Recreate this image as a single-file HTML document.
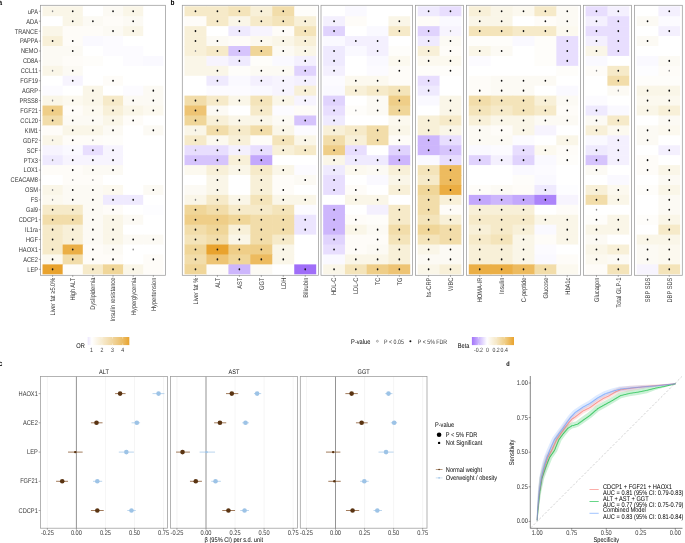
<!DOCTYPE html>
<html><head><meta charset="utf-8"><style>
html,body{margin:0;padding:0;background:#fff;width:685px;height:543px;overflow:hidden}
svg{display:block;will-change:transform;text-rendering:geometricPrecision}
</style></head><body>
<svg width="685" height="543" viewBox="0 0 685 543" font-family='"Liberation Sans", sans-serif'>
<rect width="685" height="543" fill="#fff"/>
<text transform="translate(-1.4,5.2) scale(0.830,1)" font-size="7.80" font-weight="bold" fill="#000" stroke="#000" stroke-width="0">a</text>
<text transform="translate(170.6,5.2) scale(0.830,1)" font-size="7.80" font-weight="bold" fill="#000" stroke="#000" stroke-width="0">b</text>
<text transform="translate(-1.2,366.2) scale(0.830,1)" font-size="7.80" font-weight="bold" fill="#000" stroke="#000" stroke-width="0">c</text>
<text transform="translate(506.2,365.8) scale(0.830,1)" font-size="6.72" font-weight="bold" fill="#000" stroke="#000" stroke-width="0">d</text>
<rect x="42.52" y="6.29" width="20.75" height="10.53" fill="#faf6e8"/>
<rect x="62.66" y="6.29" width="20.75" height="10.53" fill="#faf6e8"/>
<rect x="82.81" y="6.29" width="20.75" height="10.53" fill="#ffffff"/>
<rect x="102.97" y="6.29" width="20.75" height="10.53" fill="#fcfaf4"/>
<rect x="123.11" y="6.29" width="20.75" height="10.53" fill="#faf6e8"/>
<rect x="143.26" y="6.29" width="20.15" height="10.53" fill="#ffffff"/>
<rect x="42.52" y="16.22" width="20.75" height="10.53" fill="#ffffff"/>
<rect x="62.66" y="16.22" width="20.75" height="10.53" fill="#faf6e8"/>
<rect x="82.81" y="16.22" width="20.75" height="10.53" fill="#fcfaf4"/>
<rect x="102.97" y="16.22" width="20.75" height="10.53" fill="#fefcf8"/>
<rect x="123.11" y="16.22" width="20.75" height="10.53" fill="#fcfaf4"/>
<rect x="143.26" y="16.22" width="20.15" height="10.53" fill="#ffffff"/>
<rect x="42.52" y="26.15" width="20.75" height="10.53" fill="#faf6e8"/>
<rect x="62.66" y="26.15" width="20.75" height="10.53" fill="#fefcf8"/>
<rect x="82.81" y="26.15" width="20.75" height="10.53" fill="#fefcf8"/>
<rect x="102.97" y="26.15" width="20.75" height="10.53" fill="#fcfaf4"/>
<rect x="123.11" y="26.15" width="20.75" height="10.53" fill="#faf6e8"/>
<rect x="143.26" y="26.15" width="20.15" height="10.53" fill="#ffffff"/>
<rect x="42.52" y="36.07" width="20.75" height="10.53" fill="#f8f0d8"/>
<rect x="62.66" y="36.07" width="20.75" height="10.53" fill="#fefcf8"/>
<rect x="82.81" y="36.07" width="20.75" height="10.53" fill="#faf9ff"/>
<rect x="102.97" y="36.07" width="20.75" height="10.53" fill="#fcfbff"/>
<rect x="123.11" y="36.07" width="20.75" height="10.53" fill="#ffffff"/>
<rect x="143.26" y="36.07" width="20.15" height="10.53" fill="#ffffff"/>
<rect x="42.52" y="46.00" width="20.75" height="10.53" fill="#fcfaf4"/>
<rect x="62.66" y="46.00" width="20.75" height="10.53" fill="#fcfaf4"/>
<rect x="82.81" y="46.00" width="20.75" height="10.53" fill="#ffffff"/>
<rect x="102.97" y="46.00" width="20.75" height="10.53" fill="#fcfbff"/>
<rect x="123.11" y="46.00" width="20.75" height="10.53" fill="#fcfbff"/>
<rect x="143.26" y="46.00" width="20.15" height="10.53" fill="#ffffff"/>
<rect x="42.52" y="55.92" width="20.75" height="10.53" fill="#fcfaf4"/>
<rect x="62.66" y="55.92" width="20.75" height="10.53" fill="#fefcf8"/>
<rect x="82.81" y="55.92" width="20.75" height="10.53" fill="#fefdfa"/>
<rect x="102.97" y="55.92" width="20.75" height="10.53" fill="#ffffff"/>
<rect x="123.11" y="55.92" width="20.75" height="10.53" fill="#fcfbff"/>
<rect x="143.26" y="55.92" width="20.15" height="10.53" fill="#faf9ff"/>
<rect x="42.52" y="65.85" width="20.75" height="10.53" fill="#faf6e8"/>
<rect x="62.66" y="65.85" width="20.75" height="10.53" fill="#fcfaf4"/>
<rect x="82.81" y="65.85" width="20.75" height="10.53" fill="#ffffff"/>
<rect x="102.97" y="65.85" width="20.75" height="10.53" fill="#ffffff"/>
<rect x="123.11" y="65.85" width="20.75" height="10.53" fill="#ffffff"/>
<rect x="143.26" y="65.85" width="20.15" height="10.53" fill="#ffffff"/>
<rect x="42.52" y="75.78" width="20.75" height="10.53" fill="#ffffff"/>
<rect x="62.66" y="75.78" width="20.75" height="10.53" fill="#f7f4fe"/>
<rect x="82.81" y="75.78" width="20.75" height="10.53" fill="#ffffff"/>
<rect x="102.97" y="75.78" width="20.75" height="10.53" fill="#fefcf8"/>
<rect x="123.11" y="75.78" width="20.75" height="10.53" fill="#ffffff"/>
<rect x="143.26" y="75.78" width="20.15" height="10.53" fill="#ffffff"/>
<rect x="42.52" y="85.70" width="20.75" height="10.53" fill="#fcfbff"/>
<rect x="62.66" y="85.70" width="20.75" height="10.53" fill="#ffffff"/>
<rect x="82.81" y="85.70" width="20.75" height="10.53" fill="#faf6e8"/>
<rect x="102.97" y="85.70" width="20.75" height="10.53" fill="#ffffff"/>
<rect x="123.11" y="85.70" width="20.75" height="10.53" fill="#fcfbff"/>
<rect x="143.26" y="85.70" width="20.15" height="10.53" fill="#fcfaf4"/>
<rect x="42.52" y="95.63" width="20.75" height="10.53" fill="#faf6e8"/>
<rect x="62.66" y="95.63" width="20.75" height="10.53" fill="#fcf9ef"/>
<rect x="82.81" y="95.63" width="20.75" height="10.53" fill="#faf6e8"/>
<rect x="102.97" y="95.63" width="20.75" height="10.53" fill="#f6eac9"/>
<rect x="123.11" y="95.63" width="20.75" height="10.53" fill="#fcfaf4"/>
<rect x="143.26" y="95.63" width="20.15" height="10.53" fill="#fcfaf4"/>
<rect x="42.52" y="105.56" width="20.75" height="10.53" fill="#efce88"/>
<rect x="62.66" y="105.56" width="20.75" height="10.53" fill="#fefcf8"/>
<rect x="82.81" y="105.56" width="20.75" height="10.53" fill="#fcf9ef"/>
<rect x="102.97" y="105.56" width="20.75" height="10.53" fill="#f8f0d8"/>
<rect x="123.11" y="105.56" width="20.75" height="10.53" fill="#faf6e8"/>
<rect x="143.26" y="105.56" width="20.15" height="10.53" fill="#fcf9ef"/>
<rect x="42.52" y="115.48" width="20.75" height="10.53" fill="#f2ddaa"/>
<rect x="62.66" y="115.48" width="20.75" height="10.53" fill="#fcfaf4"/>
<rect x="82.81" y="115.48" width="20.75" height="10.53" fill="#fcfaf4"/>
<rect x="102.97" y="115.48" width="20.75" height="10.53" fill="#faf6e8"/>
<rect x="123.11" y="115.48" width="20.75" height="10.53" fill="#fefcf8"/>
<rect x="143.26" y="115.48" width="20.15" height="10.53" fill="#ffffff"/>
<rect x="42.52" y="125.41" width="20.75" height="10.53" fill="#fefcf8"/>
<rect x="62.66" y="125.41" width="20.75" height="10.53" fill="#faf6e8"/>
<rect x="82.81" y="125.41" width="20.75" height="10.53" fill="#faf6e8"/>
<rect x="102.97" y="125.41" width="20.75" height="10.53" fill="#fcfaf4"/>
<rect x="123.11" y="125.41" width="20.75" height="10.53" fill="#ffffff"/>
<rect x="143.26" y="125.41" width="20.15" height="10.53" fill="#fcfaf4"/>
<rect x="42.52" y="135.34" width="20.75" height="10.53" fill="#faf6e8"/>
<rect x="62.66" y="135.34" width="20.75" height="10.53" fill="#fefcf8"/>
<rect x="82.81" y="135.34" width="20.75" height="10.53" fill="#fefcf8"/>
<rect x="102.97" y="135.34" width="20.75" height="10.53" fill="#fefdfa"/>
<rect x="123.11" y="135.34" width="20.75" height="10.53" fill="#ffffff"/>
<rect x="143.26" y="135.34" width="20.15" height="10.53" fill="#ffffff"/>
<rect x="42.52" y="145.26" width="20.75" height="10.53" fill="#f7f4fe"/>
<rect x="62.66" y="145.26" width="20.75" height="10.53" fill="#faf9ff"/>
<rect x="82.81" y="145.26" width="20.75" height="10.53" fill="#e8defe"/>
<rect x="102.97" y="145.26" width="20.75" height="10.53" fill="#f7f4fe"/>
<rect x="123.11" y="145.26" width="20.75" height="10.53" fill="#ffffff"/>
<rect x="143.26" y="145.26" width="20.15" height="10.53" fill="#ffffff"/>
<rect x="42.52" y="155.19" width="20.75" height="10.53" fill="#efeafe"/>
<rect x="62.66" y="155.19" width="20.75" height="10.53" fill="#f7f4fe"/>
<rect x="82.81" y="155.19" width="20.75" height="10.53" fill="#f7f4fe"/>
<rect x="102.97" y="155.19" width="20.75" height="10.53" fill="#f7f4fe"/>
<rect x="123.11" y="155.19" width="20.75" height="10.53" fill="#ffffff"/>
<rect x="143.26" y="155.19" width="20.15" height="10.53" fill="#ffffff"/>
<rect x="42.52" y="165.12" width="20.75" height="10.53" fill="#fefcf8"/>
<rect x="62.66" y="165.12" width="20.75" height="10.53" fill="#fefcf8"/>
<rect x="82.81" y="165.12" width="20.75" height="10.53" fill="#fcfaf4"/>
<rect x="102.97" y="165.12" width="20.75" height="10.53" fill="#fcfaf4"/>
<rect x="123.11" y="165.12" width="20.75" height="10.53" fill="#ffffff"/>
<rect x="143.26" y="165.12" width="20.15" height="10.53" fill="#ffffff"/>
<rect x="42.52" y="175.04" width="20.75" height="10.53" fill="#ffffff"/>
<rect x="62.66" y="175.04" width="20.75" height="10.53" fill="#fefcf8"/>
<rect x="82.81" y="175.04" width="20.75" height="10.53" fill="#fefcf8"/>
<rect x="102.97" y="175.04" width="20.75" height="10.53" fill="#ffffff"/>
<rect x="123.11" y="175.04" width="20.75" height="10.53" fill="#ffffff"/>
<rect x="143.26" y="175.04" width="20.15" height="10.53" fill="#ffffff"/>
<rect x="42.52" y="184.97" width="20.75" height="10.53" fill="#faf6e8"/>
<rect x="62.66" y="184.97" width="20.75" height="10.53" fill="#fcfaf4"/>
<rect x="82.81" y="184.97" width="20.75" height="10.53" fill="#fcfaf4"/>
<rect x="102.97" y="184.97" width="20.75" height="10.53" fill="#fcf9ef"/>
<rect x="123.11" y="184.97" width="20.75" height="10.53" fill="#ffffff"/>
<rect x="143.26" y="184.97" width="20.15" height="10.53" fill="#fcfaf4"/>
<rect x="42.52" y="194.90" width="20.75" height="10.53" fill="#fcf9ef"/>
<rect x="62.66" y="194.90" width="20.75" height="10.53" fill="#fcfaf4"/>
<rect x="82.81" y="194.90" width="20.75" height="10.53" fill="#fcfaf4"/>
<rect x="102.97" y="194.90" width="20.75" height="10.53" fill="#efeafe"/>
<rect x="123.11" y="194.90" width="20.75" height="10.53" fill="#efeafe"/>
<rect x="143.26" y="194.90" width="20.15" height="10.53" fill="#ffffff"/>
<rect x="42.52" y="204.82" width="20.75" height="10.53" fill="#f6eac9"/>
<rect x="62.66" y="204.82" width="20.75" height="10.53" fill="#f6eac9"/>
<rect x="82.81" y="204.82" width="20.75" height="10.53" fill="#fcfaf4"/>
<rect x="102.97" y="204.82" width="20.75" height="10.53" fill="#fefcf8"/>
<rect x="123.11" y="204.82" width="20.75" height="10.53" fill="#ffffff"/>
<rect x="143.26" y="204.82" width="20.15" height="10.53" fill="#fdfdff"/>
<rect x="42.52" y="214.75" width="20.75" height="10.53" fill="#f2ddaa"/>
<rect x="62.66" y="214.75" width="20.75" height="10.53" fill="#f2ddaa"/>
<rect x="82.81" y="214.75" width="20.75" height="10.53" fill="#fcfaf4"/>
<rect x="102.97" y="214.75" width="20.75" height="10.53" fill="#faf6e8"/>
<rect x="123.11" y="214.75" width="20.75" height="10.53" fill="#fcfaf4"/>
<rect x="143.26" y="214.75" width="20.15" height="10.53" fill="#ffffff"/>
<rect x="42.52" y="224.67" width="20.75" height="10.53" fill="#f6eac9"/>
<rect x="62.66" y="224.67" width="20.75" height="10.53" fill="#f8f0d8"/>
<rect x="82.81" y="224.67" width="20.75" height="10.53" fill="#fcfaf4"/>
<rect x="102.97" y="224.67" width="20.75" height="10.53" fill="#faf6e8"/>
<rect x="123.11" y="224.67" width="20.75" height="10.53" fill="#ffffff"/>
<rect x="143.26" y="224.67" width="20.15" height="10.53" fill="#ffffff"/>
<rect x="42.52" y="234.60" width="20.75" height="10.53" fill="#f6eac9"/>
<rect x="62.66" y="234.60" width="20.75" height="10.53" fill="#f8f0d8"/>
<rect x="82.81" y="234.60" width="20.75" height="10.53" fill="#fcfaf4"/>
<rect x="102.97" y="234.60" width="20.75" height="10.53" fill="#faf6e8"/>
<rect x="123.11" y="234.60" width="20.75" height="10.53" fill="#fcfaf4"/>
<rect x="143.26" y="234.60" width="20.15" height="10.53" fill="#fcfaf4"/>
<rect x="42.52" y="244.53" width="20.75" height="10.53" fill="#f6eac9"/>
<rect x="62.66" y="244.53" width="20.75" height="10.53" fill="#ebaf46"/>
<rect x="82.81" y="244.53" width="20.75" height="10.53" fill="#fefcf8"/>
<rect x="102.97" y="244.53" width="20.75" height="10.53" fill="#fcfaf4"/>
<rect x="123.11" y="244.53" width="20.75" height="10.53" fill="#ffffff"/>
<rect x="143.26" y="244.53" width="20.15" height="10.53" fill="#ffffff"/>
<rect x="42.52" y="254.45" width="20.75" height="10.53" fill="#fcf9ef"/>
<rect x="62.66" y="254.45" width="20.75" height="10.53" fill="#f2ddaa"/>
<rect x="82.81" y="254.45" width="20.75" height="10.53" fill="#fefcf8"/>
<rect x="102.97" y="254.45" width="20.75" height="10.53" fill="#fefcf8"/>
<rect x="123.11" y="254.45" width="20.75" height="10.53" fill="#ffffff"/>
<rect x="143.26" y="254.45" width="20.15" height="10.53" fill="#fefcf8"/>
<rect x="42.52" y="264.38" width="20.75" height="9.93" fill="#e9a32e"/>
<rect x="62.66" y="264.38" width="20.75" height="9.93" fill="#fefdfa"/>
<rect x="82.81" y="264.38" width="20.75" height="9.93" fill="#f6eac9"/>
<rect x="102.97" y="264.38" width="20.75" height="9.93" fill="#f0d699"/>
<rect x="123.11" y="264.38" width="20.75" height="9.93" fill="#faf6e8"/>
<rect x="143.26" y="264.38" width="20.15" height="9.93" fill="#fefcf8"/>
<ellipse cx="52.59" cy="11.26" rx="0.75" ry="1.05" fill="#8c8c8c"/>
<ellipse cx="72.74" cy="11.26" rx="0.85" ry="1.05" fill="#111"/>
<ellipse cx="113.04" cy="11.26" rx="0.85" ry="1.05" fill="#111"/>
<ellipse cx="133.19" cy="11.26" rx="0.85" ry="1.05" fill="#111"/>
<ellipse cx="72.74" cy="21.18" rx="0.85" ry="1.05" fill="#111"/>
<ellipse cx="92.89" cy="21.18" rx="0.85" ry="1.05" fill="#111"/>
<ellipse cx="133.19" cy="21.18" rx="0.85" ry="1.05" fill="#111"/>
<ellipse cx="113.04" cy="31.11" rx="0.85" ry="1.05" fill="#111"/>
<ellipse cx="133.19" cy="31.11" rx="0.85" ry="1.05" fill="#111"/>
<ellipse cx="52.59" cy="41.04" rx="0.85" ry="1.05" fill="#111"/>
<ellipse cx="72.74" cy="41.04" rx="0.85" ry="1.05" fill="#111"/>
<ellipse cx="72.74" cy="50.96" rx="0.85" ry="1.05" fill="#111"/>
<ellipse cx="52.59" cy="70.81" rx="0.75" ry="1.05" fill="#8c8c8c"/>
<ellipse cx="72.74" cy="70.81" rx="0.85" ry="1.05" fill="#111"/>
<ellipse cx="72.74" cy="80.74" rx="0.85" ry="1.05" fill="#111"/>
<ellipse cx="113.04" cy="80.74" rx="0.85" ry="1.05" fill="#111"/>
<ellipse cx="92.89" cy="90.67" rx="0.85" ry="1.05" fill="#111"/>
<ellipse cx="153.34" cy="90.67" rx="0.85" ry="1.05" fill="#111"/>
<ellipse cx="52.59" cy="100.59" rx="0.75" ry="1.05" fill="#8c8c8c"/>
<ellipse cx="72.74" cy="100.59" rx="0.85" ry="1.05" fill="#111"/>
<ellipse cx="92.89" cy="100.59" rx="0.85" ry="1.05" fill="#111"/>
<ellipse cx="113.04" cy="100.59" rx="0.85" ry="1.05" fill="#111"/>
<ellipse cx="133.19" cy="100.59" rx="0.85" ry="1.05" fill="#111"/>
<ellipse cx="153.34" cy="100.59" rx="0.85" ry="1.05" fill="#111"/>
<ellipse cx="52.59" cy="110.52" rx="0.85" ry="1.05" fill="#111"/>
<ellipse cx="72.74" cy="110.52" rx="0.85" ry="1.05" fill="#111"/>
<ellipse cx="92.89" cy="110.52" rx="0.85" ry="1.05" fill="#111"/>
<ellipse cx="113.04" cy="110.52" rx="0.85" ry="1.05" fill="#111"/>
<ellipse cx="133.19" cy="110.52" rx="0.85" ry="1.05" fill="#111"/>
<ellipse cx="153.34" cy="110.52" rx="0.85" ry="1.05" fill="#111"/>
<ellipse cx="52.59" cy="120.45" rx="0.85" ry="1.05" fill="#111"/>
<ellipse cx="72.74" cy="120.45" rx="0.85" ry="1.05" fill="#111"/>
<ellipse cx="92.89" cy="120.45" rx="0.85" ry="1.05" fill="#111"/>
<ellipse cx="113.04" cy="120.45" rx="0.85" ry="1.05" fill="#111"/>
<ellipse cx="133.19" cy="120.45" rx="0.85" ry="1.05" fill="#111"/>
<ellipse cx="72.74" cy="130.37" rx="0.85" ry="1.05" fill="#111"/>
<ellipse cx="92.89" cy="130.37" rx="0.85" ry="1.05" fill="#111"/>
<ellipse cx="113.04" cy="130.37" rx="0.85" ry="1.05" fill="#111"/>
<ellipse cx="153.34" cy="130.37" rx="0.85" ry="1.05" fill="#111"/>
<ellipse cx="52.59" cy="140.30" rx="0.75" ry="1.05" fill="#8c8c8c"/>
<ellipse cx="72.74" cy="140.30" rx="0.85" ry="1.05" fill="#111"/>
<ellipse cx="92.89" cy="140.30" rx="0.75" ry="1.05" fill="#8c8c8c"/>
<ellipse cx="72.74" cy="150.23" rx="0.85" ry="1.05" fill="#111"/>
<ellipse cx="92.89" cy="150.23" rx="0.85" ry="1.05" fill="#111"/>
<ellipse cx="113.04" cy="150.23" rx="0.85" ry="1.05" fill="#111"/>
<ellipse cx="52.59" cy="160.15" rx="0.75" ry="1.05" fill="#8c8c8c"/>
<ellipse cx="72.74" cy="160.15" rx="0.85" ry="1.05" fill="#111"/>
<ellipse cx="92.89" cy="160.15" rx="0.85" ry="1.05" fill="#111"/>
<ellipse cx="113.04" cy="160.15" rx="0.85" ry="1.05" fill="#111"/>
<ellipse cx="72.74" cy="170.08" rx="0.85" ry="1.05" fill="#111"/>
<ellipse cx="92.89" cy="170.08" rx="0.85" ry="1.05" fill="#111"/>
<ellipse cx="113.04" cy="170.08" rx="0.85" ry="1.05" fill="#111"/>
<ellipse cx="72.74" cy="180.01" rx="0.75" ry="1.05" fill="#8c8c8c"/>
<ellipse cx="92.89" cy="180.01" rx="0.75" ry="1.05" fill="#8c8c8c"/>
<ellipse cx="52.59" cy="189.93" rx="0.75" ry="1.05" fill="#8c8c8c"/>
<ellipse cx="72.74" cy="189.93" rx="0.85" ry="1.05" fill="#111"/>
<ellipse cx="92.89" cy="189.93" rx="0.85" ry="1.05" fill="#111"/>
<ellipse cx="113.04" cy="189.93" rx="0.85" ry="1.05" fill="#111"/>
<ellipse cx="153.34" cy="189.93" rx="0.85" ry="1.05" fill="#111"/>
<ellipse cx="52.59" cy="199.86" rx="0.75" ry="1.05" fill="#8c8c8c"/>
<ellipse cx="72.74" cy="199.86" rx="0.85" ry="1.05" fill="#111"/>
<ellipse cx="92.89" cy="199.86" rx="0.85" ry="1.05" fill="#111"/>
<ellipse cx="113.04" cy="199.86" rx="0.85" ry="1.05" fill="#111"/>
<ellipse cx="133.19" cy="199.86" rx="0.85" ry="1.05" fill="#111"/>
<ellipse cx="52.59" cy="209.79" rx="0.85" ry="1.05" fill="#111"/>
<ellipse cx="72.74" cy="209.79" rx="0.85" ry="1.05" fill="#111"/>
<ellipse cx="92.89" cy="209.79" rx="0.85" ry="1.05" fill="#111"/>
<ellipse cx="113.04" cy="209.79" rx="0.85" ry="1.05" fill="#111"/>
<ellipse cx="52.59" cy="219.71" rx="0.85" ry="1.05" fill="#111"/>
<ellipse cx="72.74" cy="219.71" rx="0.85" ry="1.05" fill="#111"/>
<ellipse cx="92.89" cy="219.71" rx="0.85" ry="1.05" fill="#111"/>
<ellipse cx="113.04" cy="219.71" rx="0.85" ry="1.05" fill="#111"/>
<ellipse cx="133.19" cy="219.71" rx="0.85" ry="1.05" fill="#111"/>
<ellipse cx="52.59" cy="229.64" rx="0.85" ry="1.05" fill="#111"/>
<ellipse cx="72.74" cy="229.64" rx="0.85" ry="1.05" fill="#111"/>
<ellipse cx="92.89" cy="229.64" rx="0.85" ry="1.05" fill="#111"/>
<ellipse cx="113.04" cy="229.64" rx="0.85" ry="1.05" fill="#111"/>
<ellipse cx="52.59" cy="239.56" rx="0.85" ry="1.05" fill="#111"/>
<ellipse cx="72.74" cy="239.56" rx="0.85" ry="1.05" fill="#111"/>
<ellipse cx="92.89" cy="239.56" rx="0.85" ry="1.05" fill="#111"/>
<ellipse cx="113.04" cy="239.56" rx="0.85" ry="1.05" fill="#111"/>
<ellipse cx="133.19" cy="239.56" rx="0.85" ry="1.05" fill="#111"/>
<ellipse cx="153.34" cy="239.56" rx="0.85" ry="1.05" fill="#111"/>
<ellipse cx="52.59" cy="249.49" rx="0.85" ry="1.05" fill="#111"/>
<ellipse cx="72.74" cy="249.49" rx="0.85" ry="1.05" fill="#111"/>
<ellipse cx="92.89" cy="249.49" rx="0.85" ry="1.05" fill="#111"/>
<ellipse cx="113.04" cy="249.49" rx="0.85" ry="1.05" fill="#111"/>
<ellipse cx="133.19" cy="249.49" rx="0.75" ry="1.05" fill="#8c8c8c"/>
<ellipse cx="52.59" cy="259.42" rx="0.85" ry="1.05" fill="#111"/>
<ellipse cx="72.74" cy="259.42" rx="0.85" ry="1.05" fill="#111"/>
<ellipse cx="92.89" cy="259.42" rx="0.85" ry="1.05" fill="#111"/>
<ellipse cx="113.04" cy="259.42" rx="0.85" ry="1.05" fill="#111"/>
<ellipse cx="153.34" cy="259.42" rx="0.85" ry="1.05" fill="#111"/>
<ellipse cx="52.59" cy="269.34" rx="0.85" ry="1.05" fill="#111"/>
<ellipse cx="92.89" cy="269.34" rx="0.85" ry="1.05" fill="#111"/>
<ellipse cx="113.04" cy="269.34" rx="0.85" ry="1.05" fill="#111"/>
<ellipse cx="133.19" cy="269.34" rx="0.85" ry="1.05" fill="#111"/>
<rect x="40.50" y="5.30" width="124.93" height="270.00" fill="none" stroke="#9a9a9a" stroke-width="0.75"/>
<line x1="52.59" y1="275.30" x2="52.59" y2="276.90" stroke="#555" stroke-width="0.5"/>
<text transform="translate(54.99,277.70) rotate(-90) scale(0.830,1)" text-anchor="end" font-size="6.84" fill="#383838" stroke="#383838" stroke-width="0">Liver fat ≥5.0%</text>
<line x1="72.74" y1="275.30" x2="72.74" y2="276.90" stroke="#555" stroke-width="0.5"/>
<text transform="translate(75.14,277.70) rotate(-90) scale(0.830,1)" text-anchor="end" font-size="6.84" fill="#383838" stroke="#383838" stroke-width="0">High ALT</text>
<line x1="92.89" y1="275.30" x2="92.89" y2="276.90" stroke="#555" stroke-width="0.5"/>
<text transform="translate(95.29,277.70) rotate(-90) scale(0.830,1)" text-anchor="end" font-size="6.84" fill="#383838" stroke="#383838" stroke-width="0">Dyslipidemia</text>
<line x1="113.04" y1="275.30" x2="113.04" y2="276.90" stroke="#555" stroke-width="0.5"/>
<text transform="translate(115.44,277.70) rotate(-90) scale(0.830,1)" text-anchor="end" font-size="6.84" fill="#383838" stroke="#383838" stroke-width="0">Insulin resistance</text>
<line x1="133.19" y1="275.30" x2="133.19" y2="276.90" stroke="#555" stroke-width="0.5"/>
<text transform="translate(135.59,277.70) rotate(-90) scale(0.830,1)" text-anchor="end" font-size="6.84" fill="#383838" stroke="#383838" stroke-width="0">Hyperglycemia</text>
<line x1="153.34" y1="275.30" x2="153.34" y2="276.90" stroke="#555" stroke-width="0.5"/>
<text transform="translate(155.74,277.70) rotate(-90) scale(0.830,1)" text-anchor="end" font-size="6.84" fill="#383838" stroke="#383838" stroke-width="0">Hypertension</text>
<line x1="38.9" y1="11.26" x2="40.5" y2="11.26" stroke="#555" stroke-width="0.5"/>
<text transform="translate(38.0,13.66) scale(0.830,1)" text-anchor="end" font-size="6.84" fill="#383838" stroke="#383838" stroke-width="0">uPA</text>
<line x1="38.9" y1="21.18" x2="40.5" y2="21.18" stroke="#555" stroke-width="0.5"/>
<text transform="translate(38.0,23.58) scale(0.830,1)" text-anchor="end" font-size="6.84" fill="#383838" stroke="#383838" stroke-width="0">ADA</text>
<line x1="38.9" y1="31.11" x2="40.5" y2="31.11" stroke="#555" stroke-width="0.5"/>
<text transform="translate(38.0,33.51) scale(0.830,1)" text-anchor="end" font-size="6.84" fill="#383838" stroke="#383838" stroke-width="0">TRANCE</text>
<line x1="38.9" y1="41.04" x2="40.5" y2="41.04" stroke="#555" stroke-width="0.5"/>
<text transform="translate(38.0,43.44) scale(0.830,1)" text-anchor="end" font-size="6.84" fill="#383838" stroke="#383838" stroke-width="0">PAPPA</text>
<line x1="38.9" y1="50.96" x2="40.5" y2="50.96" stroke="#555" stroke-width="0.5"/>
<text transform="translate(38.0,53.36) scale(0.830,1)" text-anchor="end" font-size="6.84" fill="#383838" stroke="#383838" stroke-width="0">NEMO</text>
<line x1="38.9" y1="60.89" x2="40.5" y2="60.89" stroke="#555" stroke-width="0.5"/>
<text transform="translate(38.0,63.29) scale(0.830,1)" text-anchor="end" font-size="6.84" fill="#383838" stroke="#383838" stroke-width="0">CD8A</text>
<line x1="38.9" y1="70.81" x2="40.5" y2="70.81" stroke="#555" stroke-width="0.5"/>
<text transform="translate(38.0,73.21) scale(0.830,1)" text-anchor="end" font-size="6.84" fill="#383838" stroke="#383838" stroke-width="0">CCL11</text>
<line x1="38.9" y1="80.74" x2="40.5" y2="80.74" stroke="#555" stroke-width="0.5"/>
<text transform="translate(38.0,83.14) scale(0.830,1)" text-anchor="end" font-size="6.84" fill="#383838" stroke="#383838" stroke-width="0">FGF19</text>
<line x1="38.9" y1="90.67" x2="40.5" y2="90.67" stroke="#555" stroke-width="0.5"/>
<text transform="translate(38.0,93.07) scale(0.830,1)" text-anchor="end" font-size="6.84" fill="#383838" stroke="#383838" stroke-width="0">AGRP</text>
<line x1="38.9" y1="100.59" x2="40.5" y2="100.59" stroke="#555" stroke-width="0.5"/>
<text transform="translate(38.0,102.99) scale(0.830,1)" text-anchor="end" font-size="6.84" fill="#383838" stroke="#383838" stroke-width="0">PRSS8</text>
<line x1="38.9" y1="110.52" x2="40.5" y2="110.52" stroke="#555" stroke-width="0.5"/>
<text transform="translate(38.0,112.92) scale(0.830,1)" text-anchor="end" font-size="6.84" fill="#383838" stroke="#383838" stroke-width="0">FGF21</text>
<line x1="38.9" y1="120.45" x2="40.5" y2="120.45" stroke="#555" stroke-width="0.5"/>
<text transform="translate(38.0,122.85) scale(0.830,1)" text-anchor="end" font-size="6.84" fill="#383838" stroke="#383838" stroke-width="0">CCL20</text>
<line x1="38.9" y1="130.37" x2="40.5" y2="130.37" stroke="#555" stroke-width="0.5"/>
<text transform="translate(38.0,132.77) scale(0.830,1)" text-anchor="end" font-size="6.84" fill="#383838" stroke="#383838" stroke-width="0">KIM1</text>
<line x1="38.9" y1="140.30" x2="40.5" y2="140.30" stroke="#555" stroke-width="0.5"/>
<text transform="translate(38.0,142.70) scale(0.830,1)" text-anchor="end" font-size="6.84" fill="#383838" stroke="#383838" stroke-width="0">GDF2</text>
<line x1="38.9" y1="150.23" x2="40.5" y2="150.23" stroke="#555" stroke-width="0.5"/>
<text transform="translate(38.0,152.63) scale(0.830,1)" text-anchor="end" font-size="6.84" fill="#383838" stroke="#383838" stroke-width="0">SCF</text>
<line x1="38.9" y1="160.15" x2="40.5" y2="160.15" stroke="#555" stroke-width="0.5"/>
<text transform="translate(38.0,162.55) scale(0.830,1)" text-anchor="end" font-size="6.84" fill="#383838" stroke="#383838" stroke-width="0">PTX3</text>
<line x1="38.9" y1="170.08" x2="40.5" y2="170.08" stroke="#555" stroke-width="0.5"/>
<text transform="translate(38.0,172.48) scale(0.830,1)" text-anchor="end" font-size="6.84" fill="#383838" stroke="#383838" stroke-width="0">LOX1</text>
<line x1="38.9" y1="180.01" x2="40.5" y2="180.01" stroke="#555" stroke-width="0.5"/>
<text transform="translate(38.0,182.41) scale(0.830,1)" text-anchor="end" font-size="6.84" fill="#383838" stroke="#383838" stroke-width="0">CEACAM8</text>
<line x1="38.9" y1="189.93" x2="40.5" y2="189.93" stroke="#555" stroke-width="0.5"/>
<text transform="translate(38.0,192.33) scale(0.830,1)" text-anchor="end" font-size="6.84" fill="#383838" stroke="#383838" stroke-width="0">OSM</text>
<line x1="38.9" y1="199.86" x2="40.5" y2="199.86" stroke="#555" stroke-width="0.5"/>
<text transform="translate(38.0,202.26) scale(0.830,1)" text-anchor="end" font-size="6.84" fill="#383838" stroke="#383838" stroke-width="0">FS</text>
<line x1="38.9" y1="209.79" x2="40.5" y2="209.79" stroke="#555" stroke-width="0.5"/>
<text transform="translate(38.0,212.19) scale(0.830,1)" text-anchor="end" font-size="6.84" fill="#383838" stroke="#383838" stroke-width="0">Gal9</text>
<line x1="38.9" y1="219.71" x2="40.5" y2="219.71" stroke="#555" stroke-width="0.5"/>
<text transform="translate(38.0,222.11) scale(0.830,1)" text-anchor="end" font-size="6.84" fill="#383838" stroke="#383838" stroke-width="0">CDCP1</text>
<line x1="38.9" y1="229.64" x2="40.5" y2="229.64" stroke="#555" stroke-width="0.5"/>
<text transform="translate(38.0,232.04) scale(0.830,1)" text-anchor="end" font-size="6.84" fill="#383838" stroke="#383838" stroke-width="0">IL1ra</text>
<line x1="38.9" y1="239.56" x2="40.5" y2="239.56" stroke="#555" stroke-width="0.5"/>
<text transform="translate(38.0,241.96) scale(0.830,1)" text-anchor="end" font-size="6.84" fill="#383838" stroke="#383838" stroke-width="0">HGF</text>
<line x1="38.9" y1="249.49" x2="40.5" y2="249.49" stroke="#555" stroke-width="0.5"/>
<text transform="translate(38.0,251.89) scale(0.830,1)" text-anchor="end" font-size="6.84" fill="#383838" stroke="#383838" stroke-width="0">HAOX1</text>
<line x1="38.9" y1="259.42" x2="40.5" y2="259.42" stroke="#555" stroke-width="0.5"/>
<text transform="translate(38.0,261.82) scale(0.830,1)" text-anchor="end" font-size="6.84" fill="#383838" stroke="#383838" stroke-width="0">ACE2</text>
<line x1="38.9" y1="269.34" x2="40.5" y2="269.34" stroke="#555" stroke-width="0.5"/>
<text transform="translate(38.0,271.74) scale(0.830,1)" text-anchor="end" font-size="6.84" fill="#383838" stroke="#383838" stroke-width="0">LEP</text>
<rect x="184.50" y="6.29" width="22.55" height="10.53" fill="#f6eac9"/>
<rect x="206.45" y="6.29" width="22.55" height="10.53" fill="#f6eac9"/>
<rect x="228.40" y="6.29" width="22.55" height="10.53" fill="#f4e4ba"/>
<rect x="250.35" y="6.29" width="22.55" height="10.53" fill="#f8f0d8"/>
<rect x="272.30" y="6.29" width="22.55" height="10.53" fill="#f2ddaa"/>
<rect x="294.25" y="6.29" width="21.95" height="10.53" fill="#fefdfa"/>
<rect x="184.50" y="16.22" width="22.55" height="10.53" fill="#fefcf8"/>
<rect x="206.45" y="16.22" width="22.55" height="10.53" fill="#f6eac9"/>
<rect x="228.40" y="16.22" width="22.55" height="10.53" fill="#faf6e8"/>
<rect x="250.35" y="16.22" width="22.55" height="10.53" fill="#f6eac9"/>
<rect x="272.30" y="16.22" width="22.55" height="10.53" fill="#f4e4ba"/>
<rect x="294.25" y="16.22" width="21.95" height="10.53" fill="#f8f0d8"/>
<rect x="184.50" y="26.15" width="22.55" height="10.53" fill="#f8f0d8"/>
<rect x="206.45" y="26.15" width="22.55" height="10.53" fill="#ffffff"/>
<rect x="228.40" y="26.15" width="22.55" height="10.53" fill="#efeafe"/>
<rect x="250.35" y="26.15" width="22.55" height="10.53" fill="#f7f4fe"/>
<rect x="272.30" y="26.15" width="22.55" height="10.53" fill="#fefcf8"/>
<rect x="294.25" y="26.15" width="21.95" height="10.53" fill="#f4e4ba"/>
<rect x="184.50" y="36.07" width="22.55" height="10.53" fill="#f8f0d8"/>
<rect x="206.45" y="36.07" width="22.55" height="10.53" fill="#fcfaf4"/>
<rect x="228.40" y="36.07" width="22.55" height="10.53" fill="#fefcf8"/>
<rect x="250.35" y="36.07" width="22.55" height="10.53" fill="#fcf9ef"/>
<rect x="272.30" y="36.07" width="22.55" height="10.53" fill="#faf6e8"/>
<rect x="294.25" y="36.07" width="21.95" height="10.53" fill="#f8f0d8"/>
<rect x="184.50" y="46.00" width="22.55" height="10.53" fill="#f8f0d8"/>
<rect x="206.45" y="46.00" width="22.55" height="10.53" fill="#f6eac9"/>
<rect x="228.40" y="46.00" width="22.55" height="10.53" fill="#d6c4fc"/>
<rect x="250.35" y="46.00" width="22.55" height="10.53" fill="#f0d699"/>
<rect x="272.30" y="46.00" width="22.55" height="10.53" fill="#fcfaf4"/>
<rect x="294.25" y="46.00" width="21.95" height="10.53" fill="#faf6e8"/>
<rect x="184.50" y="55.92" width="22.55" height="10.53" fill="#faf6e8"/>
<rect x="206.45" y="55.92" width="22.55" height="10.53" fill="#f7f4fe"/>
<rect x="228.40" y="55.92" width="22.55" height="10.53" fill="#efeafe"/>
<rect x="250.35" y="55.92" width="22.55" height="10.53" fill="#fefdfa"/>
<rect x="272.30" y="55.92" width="22.55" height="10.53" fill="#faf9ff"/>
<rect x="294.25" y="55.92" width="21.95" height="10.53" fill="#f4f0fe"/>
<rect x="184.50" y="65.85" width="22.55" height="10.53" fill="#faf6e8"/>
<rect x="206.45" y="65.85" width="22.55" height="10.53" fill="#faf6e8"/>
<rect x="228.40" y="65.85" width="22.55" height="10.53" fill="#fefdfa"/>
<rect x="250.35" y="65.85" width="22.55" height="10.53" fill="#fcfaf4"/>
<rect x="272.30" y="65.85" width="22.55" height="10.53" fill="#fcfaf4"/>
<rect x="294.25" y="65.85" width="21.95" height="10.53" fill="#e0d3fd"/>
<rect x="184.50" y="75.78" width="22.55" height="10.53" fill="#ffffff"/>
<rect x="206.45" y="75.78" width="22.55" height="10.53" fill="#efeafe"/>
<rect x="228.40" y="75.78" width="22.55" height="10.53" fill="#faf9ff"/>
<rect x="250.35" y="75.78" width="22.55" height="10.53" fill="#f4f0fe"/>
<rect x="272.30" y="75.78" width="22.55" height="10.53" fill="#f7f4fe"/>
<rect x="294.25" y="75.78" width="21.95" height="10.53" fill="#f4f0fe"/>
<rect x="184.50" y="85.70" width="22.55" height="10.53" fill="#ffffff"/>
<rect x="206.45" y="85.70" width="22.55" height="10.53" fill="#fcfbff"/>
<rect x="228.40" y="85.70" width="22.55" height="10.53" fill="#fcfbff"/>
<rect x="250.35" y="85.70" width="22.55" height="10.53" fill="#faf9ff"/>
<rect x="272.30" y="85.70" width="22.55" height="10.53" fill="#f7f4fe"/>
<rect x="294.25" y="85.70" width="21.95" height="10.53" fill="#f8f0d8"/>
<rect x="184.50" y="95.63" width="22.55" height="10.53" fill="#f2ddaa"/>
<rect x="206.45" y="95.63" width="22.55" height="10.53" fill="#f6eac9"/>
<rect x="228.40" y="95.63" width="22.55" height="10.53" fill="#faf6e8"/>
<rect x="250.35" y="95.63" width="22.55" height="10.53" fill="#f4e4ba"/>
<rect x="272.30" y="95.63" width="22.55" height="10.53" fill="#faf6e8"/>
<rect x="294.25" y="95.63" width="21.95" height="10.53" fill="#f7f4fe"/>
<rect x="184.50" y="105.56" width="22.55" height="10.53" fill="#eec474"/>
<rect x="206.45" y="105.56" width="22.55" height="10.53" fill="#fcfaf4"/>
<rect x="228.40" y="105.56" width="22.55" height="10.53" fill="#ffffff"/>
<rect x="250.35" y="105.56" width="22.55" height="10.53" fill="#f6eac9"/>
<rect x="272.30" y="105.56" width="22.55" height="10.53" fill="#fcfbff"/>
<rect x="294.25" y="105.56" width="21.95" height="10.53" fill="#fefcf8"/>
<rect x="184.50" y="115.48" width="22.55" height="10.53" fill="#f0d699"/>
<rect x="206.45" y="115.48" width="22.55" height="10.53" fill="#f8f0d8"/>
<rect x="228.40" y="115.48" width="22.55" height="10.53" fill="#faf6e8"/>
<rect x="250.35" y="115.48" width="22.55" height="10.53" fill="#faf6e8"/>
<rect x="272.30" y="115.48" width="22.55" height="10.53" fill="#fcfaf4"/>
<rect x="294.25" y="115.48" width="21.95" height="10.53" fill="#d6c4fc"/>
<rect x="184.50" y="125.41" width="22.55" height="10.53" fill="#faf6e8"/>
<rect x="206.45" y="125.41" width="22.55" height="10.53" fill="#f2ddaa"/>
<rect x="228.40" y="125.41" width="22.55" height="10.53" fill="#f6eac9"/>
<rect x="250.35" y="125.41" width="22.55" height="10.53" fill="#f2ddaa"/>
<rect x="272.30" y="125.41" width="22.55" height="10.53" fill="#faf6e8"/>
<rect x="294.25" y="125.41" width="21.95" height="10.53" fill="#fcfbff"/>
<rect x="184.50" y="135.34" width="22.55" height="10.53" fill="#f6eac9"/>
<rect x="206.45" y="135.34" width="22.55" height="10.53" fill="#fcf9ef"/>
<rect x="228.40" y="135.34" width="22.55" height="10.53" fill="#f8f0d8"/>
<rect x="250.35" y="135.34" width="22.55" height="10.53" fill="#fefcf8"/>
<rect x="272.30" y="135.34" width="22.55" height="10.53" fill="#f4e4ba"/>
<rect x="294.25" y="135.34" width="21.95" height="10.53" fill="#faf6e8"/>
<rect x="184.50" y="145.26" width="22.55" height="10.53" fill="#e8defe"/>
<rect x="206.45" y="145.26" width="22.55" height="10.53" fill="#e8defe"/>
<rect x="228.40" y="145.26" width="22.55" height="10.53" fill="#f4f0fe"/>
<rect x="250.35" y="145.26" width="22.55" height="10.53" fill="#e8defe"/>
<rect x="272.30" y="145.26" width="22.55" height="10.53" fill="#f8f0d8"/>
<rect x="294.25" y="145.26" width="21.95" height="10.53" fill="#f6eac9"/>
<rect x="184.50" y="155.19" width="22.55" height="10.53" fill="#d6c4fc"/>
<rect x="206.45" y="155.19" width="22.55" height="10.53" fill="#d6c4fc"/>
<rect x="228.40" y="155.19" width="22.55" height="10.53" fill="#f8f0d8"/>
<rect x="250.35" y="155.19" width="22.55" height="10.53" fill="#c3a8fc"/>
<rect x="272.30" y="155.19" width="22.55" height="10.53" fill="#ffffff"/>
<rect x="294.25" y="155.19" width="21.95" height="10.53" fill="#ffffff"/>
<rect x="184.50" y="165.12" width="22.55" height="10.53" fill="#fcf9ef"/>
<rect x="206.45" y="165.12" width="22.55" height="10.53" fill="#f8f0d8"/>
<rect x="228.40" y="165.12" width="22.55" height="10.53" fill="#faf6e8"/>
<rect x="250.35" y="165.12" width="22.55" height="10.53" fill="#f6eac9"/>
<rect x="272.30" y="165.12" width="22.55" height="10.53" fill="#faf6e8"/>
<rect x="294.25" y="165.12" width="21.95" height="10.53" fill="#fcfbff"/>
<rect x="184.50" y="175.04" width="22.55" height="10.53" fill="#ffffff"/>
<rect x="206.45" y="175.04" width="22.55" height="10.53" fill="#faf6e8"/>
<rect x="228.40" y="175.04" width="22.55" height="10.53" fill="#ffffff"/>
<rect x="250.35" y="175.04" width="22.55" height="10.53" fill="#f8f0d8"/>
<rect x="272.30" y="175.04" width="22.55" height="10.53" fill="#fefcf8"/>
<rect x="294.25" y="175.04" width="21.95" height="10.53" fill="#fcfaf4"/>
<rect x="184.50" y="184.97" width="22.55" height="10.53" fill="#fcfaf4"/>
<rect x="206.45" y="184.97" width="22.55" height="10.53" fill="#faf6e8"/>
<rect x="228.40" y="184.97" width="22.55" height="10.53" fill="#ffffff"/>
<rect x="250.35" y="184.97" width="22.55" height="10.53" fill="#f8f0d8"/>
<rect x="272.30" y="184.97" width="22.55" height="10.53" fill="#fefcf8"/>
<rect x="294.25" y="184.97" width="21.95" height="10.53" fill="#ffffff"/>
<rect x="184.50" y="194.90" width="22.55" height="10.53" fill="#faf6e8"/>
<rect x="206.45" y="194.90" width="22.55" height="10.53" fill="#f6eac9"/>
<rect x="228.40" y="194.90" width="22.55" height="10.53" fill="#faf6e8"/>
<rect x="250.35" y="194.90" width="22.55" height="10.53" fill="#f4e4ba"/>
<rect x="272.30" y="194.90" width="22.55" height="10.53" fill="#faf6e8"/>
<rect x="294.25" y="194.90" width="21.95" height="10.53" fill="#faf6e8"/>
<rect x="184.50" y="204.82" width="22.55" height="10.53" fill="#f0d699"/>
<rect x="206.45" y="204.82" width="22.55" height="10.53" fill="#f2ddaa"/>
<rect x="228.40" y="204.82" width="22.55" height="10.53" fill="#f6eac9"/>
<rect x="250.35" y="204.82" width="22.55" height="10.53" fill="#f6eac9"/>
<rect x="272.30" y="204.82" width="22.55" height="10.53" fill="#f4e4ba"/>
<rect x="294.25" y="204.82" width="21.95" height="10.53" fill="#fcfbff"/>
<rect x="184.50" y="214.75" width="22.55" height="10.53" fill="#efce88"/>
<rect x="206.45" y="214.75" width="22.55" height="10.53" fill="#efce88"/>
<rect x="228.40" y="214.75" width="22.55" height="10.53" fill="#f0d699"/>
<rect x="250.35" y="214.75" width="22.55" height="10.53" fill="#f2ddaa"/>
<rect x="272.30" y="214.75" width="22.55" height="10.53" fill="#f2ddaa"/>
<rect x="294.25" y="214.75" width="21.95" height="10.53" fill="#ece5fe"/>
<rect x="184.50" y="224.67" width="22.55" height="10.53" fill="#f2ddaa"/>
<rect x="206.45" y="224.67" width="22.55" height="10.53" fill="#f0d699"/>
<rect x="228.40" y="224.67" width="22.55" height="10.53" fill="#f8f0d8"/>
<rect x="250.35" y="224.67" width="22.55" height="10.53" fill="#f2ddaa"/>
<rect x="272.30" y="224.67" width="22.55" height="10.53" fill="#f2ddaa"/>
<rect x="294.25" y="224.67" width="21.95" height="10.53" fill="#ece5fe"/>
<rect x="184.50" y="234.60" width="22.55" height="10.53" fill="#f4e4ba"/>
<rect x="206.45" y="234.60" width="22.55" height="10.53" fill="#f2ddaa"/>
<rect x="228.40" y="234.60" width="22.55" height="10.53" fill="#faf6e8"/>
<rect x="250.35" y="234.60" width="22.55" height="10.53" fill="#f2ddaa"/>
<rect x="272.30" y="234.60" width="22.55" height="10.53" fill="#f6eac9"/>
<rect x="294.25" y="234.60" width="21.95" height="10.53" fill="#ffffff"/>
<rect x="184.50" y="244.53" width="22.55" height="10.53" fill="#f0d699"/>
<rect x="206.45" y="244.53" width="22.55" height="10.53" fill="#e9a32e"/>
<rect x="228.40" y="244.53" width="22.55" height="10.53" fill="#efce88"/>
<rect x="250.35" y="244.53" width="22.55" height="10.53" fill="#efce88"/>
<rect x="272.30" y="244.53" width="22.55" height="10.53" fill="#faf6e8"/>
<rect x="294.25" y="244.53" width="21.95" height="10.53" fill="#ffffff"/>
<rect x="184.50" y="254.45" width="22.55" height="10.53" fill="#f2ddaa"/>
<rect x="206.45" y="254.45" width="22.55" height="10.53" fill="#eec474"/>
<rect x="228.40" y="254.45" width="22.55" height="10.53" fill="#f0d699"/>
<rect x="250.35" y="254.45" width="22.55" height="10.53" fill="#edbb5f"/>
<rect x="272.30" y="254.45" width="22.55" height="10.53" fill="#faf6e8"/>
<rect x="294.25" y="254.45" width="21.95" height="10.53" fill="#ffffff"/>
<rect x="184.50" y="264.38" width="22.55" height="9.93" fill="#f0d699"/>
<rect x="206.45" y="264.38" width="22.55" height="9.93" fill="#fefcf8"/>
<rect x="228.40" y="264.38" width="22.55" height="9.93" fill="#cdb6fc"/>
<rect x="250.35" y="264.38" width="22.55" height="9.93" fill="#fcfaf4"/>
<rect x="272.30" y="264.38" width="22.55" height="9.93" fill="#ffffff"/>
<rect x="294.25" y="264.38" width="21.95" height="9.93" fill="#a06ef8"/>
<ellipse cx="195.47" cy="11.26" rx="0.85" ry="1.05" fill="#111"/>
<ellipse cx="217.42" cy="11.26" rx="0.85" ry="1.05" fill="#111"/>
<ellipse cx="239.37" cy="11.26" rx="0.85" ry="1.05" fill="#111"/>
<ellipse cx="261.33" cy="11.26" rx="0.85" ry="1.05" fill="#111"/>
<ellipse cx="283.28" cy="11.26" rx="0.85" ry="1.05" fill="#111"/>
<ellipse cx="217.42" cy="21.18" rx="0.85" ry="1.05" fill="#111"/>
<ellipse cx="239.37" cy="21.18" rx="0.85" ry="1.05" fill="#111"/>
<ellipse cx="261.33" cy="21.18" rx="0.85" ry="1.05" fill="#111"/>
<ellipse cx="283.28" cy="21.18" rx="0.85" ry="1.05" fill="#111"/>
<ellipse cx="305.23" cy="21.18" rx="0.85" ry="1.05" fill="#111"/>
<ellipse cx="195.47" cy="31.11" rx="0.85" ry="1.05" fill="#111"/>
<ellipse cx="239.37" cy="31.11" rx="0.85" ry="1.05" fill="#111"/>
<ellipse cx="283.28" cy="31.11" rx="0.85" ry="1.05" fill="#111"/>
<ellipse cx="305.23" cy="31.11" rx="0.85" ry="1.05" fill="#111"/>
<ellipse cx="195.47" cy="41.04" rx="0.85" ry="1.05" fill="#111"/>
<ellipse cx="217.42" cy="41.04" rx="0.85" ry="1.05" fill="#111"/>
<ellipse cx="261.33" cy="41.04" rx="0.85" ry="1.05" fill="#111"/>
<ellipse cx="283.28" cy="41.04" rx="0.85" ry="1.05" fill="#111"/>
<ellipse cx="305.23" cy="41.04" rx="0.85" ry="1.05" fill="#111"/>
<ellipse cx="195.47" cy="50.96" rx="0.75" ry="1.05" fill="#8c8c8c"/>
<ellipse cx="217.42" cy="50.96" rx="0.85" ry="1.05" fill="#111"/>
<ellipse cx="239.37" cy="50.96" rx="0.85" ry="1.05" fill="#111"/>
<ellipse cx="261.33" cy="50.96" rx="0.85" ry="1.05" fill="#111"/>
<ellipse cx="283.28" cy="50.96" rx="0.85" ry="1.05" fill="#111"/>
<ellipse cx="305.23" cy="50.96" rx="0.85" ry="1.05" fill="#111"/>
<ellipse cx="239.37" cy="60.89" rx="0.85" ry="1.05" fill="#111"/>
<ellipse cx="305.23" cy="60.89" rx="0.85" ry="1.05" fill="#111"/>
<ellipse cx="217.42" cy="70.81" rx="0.85" ry="1.05" fill="#111"/>
<ellipse cx="261.33" cy="70.81" rx="0.85" ry="1.05" fill="#111"/>
<ellipse cx="283.28" cy="70.81" rx="0.85" ry="1.05" fill="#111"/>
<ellipse cx="305.23" cy="70.81" rx="0.85" ry="1.05" fill="#111"/>
<ellipse cx="217.42" cy="80.74" rx="0.85" ry="1.05" fill="#111"/>
<ellipse cx="261.33" cy="80.74" rx="0.85" ry="1.05" fill="#111"/>
<ellipse cx="283.28" cy="80.74" rx="0.85" ry="1.05" fill="#111"/>
<ellipse cx="305.23" cy="80.74" rx="0.85" ry="1.05" fill="#111"/>
<ellipse cx="283.28" cy="90.67" rx="0.85" ry="1.05" fill="#111"/>
<ellipse cx="305.23" cy="90.67" rx="0.85" ry="1.05" fill="#111"/>
<ellipse cx="195.47" cy="100.59" rx="0.85" ry="1.05" fill="#111"/>
<ellipse cx="217.42" cy="100.59" rx="0.85" ry="1.05" fill="#111"/>
<ellipse cx="239.37" cy="100.59" rx="0.85" ry="1.05" fill="#111"/>
<ellipse cx="261.33" cy="100.59" rx="0.85" ry="1.05" fill="#111"/>
<ellipse cx="283.28" cy="100.59" rx="0.85" ry="1.05" fill="#111"/>
<ellipse cx="305.23" cy="100.59" rx="0.85" ry="1.05" fill="#111"/>
<ellipse cx="195.47" cy="110.52" rx="0.85" ry="1.05" fill="#111"/>
<ellipse cx="217.42" cy="110.52" rx="0.85" ry="1.05" fill="#111"/>
<ellipse cx="261.33" cy="110.52" rx="0.85" ry="1.05" fill="#111"/>
<ellipse cx="195.47" cy="120.45" rx="0.85" ry="1.05" fill="#111"/>
<ellipse cx="217.42" cy="120.45" rx="0.85" ry="1.05" fill="#111"/>
<ellipse cx="239.37" cy="120.45" rx="0.85" ry="1.05" fill="#111"/>
<ellipse cx="261.33" cy="120.45" rx="0.85" ry="1.05" fill="#111"/>
<ellipse cx="283.28" cy="120.45" rx="0.85" ry="1.05" fill="#111"/>
<ellipse cx="305.23" cy="120.45" rx="0.85" ry="1.05" fill="#111"/>
<ellipse cx="195.47" cy="130.37" rx="0.75" ry="1.05" fill="#8c8c8c"/>
<ellipse cx="217.42" cy="130.37" rx="0.85" ry="1.05" fill="#111"/>
<ellipse cx="239.37" cy="130.37" rx="0.85" ry="1.05" fill="#111"/>
<ellipse cx="261.33" cy="130.37" rx="0.85" ry="1.05" fill="#111"/>
<ellipse cx="283.28" cy="130.37" rx="0.85" ry="1.05" fill="#111"/>
<ellipse cx="195.47" cy="140.30" rx="0.85" ry="1.05" fill="#111"/>
<ellipse cx="217.42" cy="140.30" rx="0.85" ry="1.05" fill="#111"/>
<ellipse cx="239.37" cy="140.30" rx="0.85" ry="1.05" fill="#111"/>
<ellipse cx="283.28" cy="140.30" rx="0.85" ry="1.05" fill="#111"/>
<ellipse cx="305.23" cy="140.30" rx="0.85" ry="1.05" fill="#111"/>
<ellipse cx="195.47" cy="150.23" rx="0.75" ry="1.05" fill="#8c8c8c"/>
<ellipse cx="217.42" cy="150.23" rx="0.85" ry="1.05" fill="#111"/>
<ellipse cx="239.37" cy="150.23" rx="0.85" ry="1.05" fill="#111"/>
<ellipse cx="261.33" cy="150.23" rx="0.85" ry="1.05" fill="#111"/>
<ellipse cx="283.28" cy="150.23" rx="0.85" ry="1.05" fill="#111"/>
<ellipse cx="305.23" cy="150.23" rx="0.85" ry="1.05" fill="#111"/>
<ellipse cx="195.47" cy="160.15" rx="0.85" ry="1.05" fill="#111"/>
<ellipse cx="217.42" cy="160.15" rx="0.85" ry="1.05" fill="#111"/>
<ellipse cx="239.37" cy="160.15" rx="0.85" ry="1.05" fill="#111"/>
<ellipse cx="261.33" cy="160.15" rx="0.85" ry="1.05" fill="#111"/>
<ellipse cx="217.42" cy="170.08" rx="0.85" ry="1.05" fill="#111"/>
<ellipse cx="239.37" cy="170.08" rx="0.85" ry="1.05" fill="#111"/>
<ellipse cx="261.33" cy="170.08" rx="0.85" ry="1.05" fill="#111"/>
<ellipse cx="283.28" cy="170.08" rx="0.85" ry="1.05" fill="#111"/>
<ellipse cx="217.42" cy="180.01" rx="0.85" ry="1.05" fill="#111"/>
<ellipse cx="261.33" cy="180.01" rx="0.85" ry="1.05" fill="#111"/>
<ellipse cx="305.23" cy="180.01" rx="0.85" ry="1.05" fill="#111"/>
<ellipse cx="217.42" cy="189.93" rx="0.85" ry="1.05" fill="#111"/>
<ellipse cx="261.33" cy="189.93" rx="0.85" ry="1.05" fill="#111"/>
<ellipse cx="283.28" cy="189.93" rx="0.85" ry="1.05" fill="#111"/>
<ellipse cx="195.47" cy="199.86" rx="0.75" ry="1.05" fill="#8c8c8c"/>
<ellipse cx="217.42" cy="199.86" rx="0.85" ry="1.05" fill="#111"/>
<ellipse cx="239.37" cy="199.86" rx="0.85" ry="1.05" fill="#111"/>
<ellipse cx="261.33" cy="199.86" rx="0.85" ry="1.05" fill="#111"/>
<ellipse cx="283.28" cy="199.86" rx="0.85" ry="1.05" fill="#111"/>
<ellipse cx="305.23" cy="199.86" rx="0.85" ry="1.05" fill="#111"/>
<ellipse cx="195.47" cy="209.79" rx="0.85" ry="1.05" fill="#111"/>
<ellipse cx="217.42" cy="209.79" rx="0.85" ry="1.05" fill="#111"/>
<ellipse cx="239.37" cy="209.79" rx="0.85" ry="1.05" fill="#111"/>
<ellipse cx="261.33" cy="209.79" rx="0.85" ry="1.05" fill="#111"/>
<ellipse cx="283.28" cy="209.79" rx="0.85" ry="1.05" fill="#111"/>
<ellipse cx="195.47" cy="219.71" rx="0.85" ry="1.05" fill="#111"/>
<ellipse cx="217.42" cy="219.71" rx="0.85" ry="1.05" fill="#111"/>
<ellipse cx="239.37" cy="219.71" rx="0.85" ry="1.05" fill="#111"/>
<ellipse cx="261.33" cy="219.71" rx="0.85" ry="1.05" fill="#111"/>
<ellipse cx="283.28" cy="219.71" rx="0.85" ry="1.05" fill="#111"/>
<ellipse cx="305.23" cy="219.71" rx="0.85" ry="1.05" fill="#111"/>
<ellipse cx="195.47" cy="229.64" rx="0.85" ry="1.05" fill="#111"/>
<ellipse cx="217.42" cy="229.64" rx="0.85" ry="1.05" fill="#111"/>
<ellipse cx="239.37" cy="229.64" rx="0.85" ry="1.05" fill="#111"/>
<ellipse cx="261.33" cy="229.64" rx="0.85" ry="1.05" fill="#111"/>
<ellipse cx="283.28" cy="229.64" rx="0.85" ry="1.05" fill="#111"/>
<ellipse cx="305.23" cy="229.64" rx="0.85" ry="1.05" fill="#111"/>
<ellipse cx="195.47" cy="239.56" rx="0.85" ry="1.05" fill="#111"/>
<ellipse cx="217.42" cy="239.56" rx="0.85" ry="1.05" fill="#111"/>
<ellipse cx="239.37" cy="239.56" rx="0.85" ry="1.05" fill="#111"/>
<ellipse cx="261.33" cy="239.56" rx="0.85" ry="1.05" fill="#111"/>
<ellipse cx="283.28" cy="239.56" rx="0.85" ry="1.05" fill="#111"/>
<ellipse cx="195.47" cy="249.49" rx="0.85" ry="1.05" fill="#111"/>
<ellipse cx="217.42" cy="249.49" rx="0.85" ry="1.05" fill="#111"/>
<ellipse cx="239.37" cy="249.49" rx="0.85" ry="1.05" fill="#111"/>
<ellipse cx="261.33" cy="249.49" rx="0.85" ry="1.05" fill="#111"/>
<ellipse cx="283.28" cy="249.49" rx="0.85" ry="1.05" fill="#111"/>
<ellipse cx="195.47" cy="259.42" rx="0.85" ry="1.05" fill="#111"/>
<ellipse cx="217.42" cy="259.42" rx="0.85" ry="1.05" fill="#111"/>
<ellipse cx="239.37" cy="259.42" rx="0.85" ry="1.05" fill="#111"/>
<ellipse cx="261.33" cy="259.42" rx="0.85" ry="1.05" fill="#111"/>
<ellipse cx="283.28" cy="259.42" rx="0.85" ry="1.05" fill="#111"/>
<ellipse cx="195.47" cy="269.34" rx="0.85" ry="1.05" fill="#111"/>
<ellipse cx="239.37" cy="269.34" rx="0.85" ry="1.05" fill="#111"/>
<ellipse cx="305.23" cy="269.34" rx="0.85" ry="1.05" fill="#111"/>
<rect x="182.30" y="5.30" width="136.10" height="270.00" fill="none" stroke="#9a9a9a" stroke-width="0.75"/>
<line x1="195.47" y1="275.30" x2="195.47" y2="276.90" stroke="#555" stroke-width="0.5"/>
<text transform="translate(197.87,277.70) rotate(-90) scale(0.830,1)" text-anchor="end" font-size="6.84" fill="#383838" stroke="#383838" stroke-width="0">Liver fat %</text>
<line x1="217.42" y1="275.30" x2="217.42" y2="276.90" stroke="#555" stroke-width="0.5"/>
<text transform="translate(219.82,277.70) rotate(-90) scale(0.830,1)" text-anchor="end" font-size="6.84" fill="#383838" stroke="#383838" stroke-width="0">ALT</text>
<line x1="239.37" y1="275.30" x2="239.37" y2="276.90" stroke="#555" stroke-width="0.5"/>
<text transform="translate(241.77,277.70) rotate(-90) scale(0.830,1)" text-anchor="end" font-size="6.84" fill="#383838" stroke="#383838" stroke-width="0">AST</text>
<line x1="261.33" y1="275.30" x2="261.33" y2="276.90" stroke="#555" stroke-width="0.5"/>
<text transform="translate(263.73,277.70) rotate(-90) scale(0.830,1)" text-anchor="end" font-size="6.84" fill="#383838" stroke="#383838" stroke-width="0">GGT</text>
<line x1="283.28" y1="275.30" x2="283.28" y2="276.90" stroke="#555" stroke-width="0.5"/>
<text transform="translate(285.68,277.70) rotate(-90) scale(0.830,1)" text-anchor="end" font-size="6.84" fill="#383838" stroke="#383838" stroke-width="0">LDH</text>
<line x1="305.23" y1="275.30" x2="305.23" y2="276.90" stroke="#555" stroke-width="0.5"/>
<text transform="translate(307.63,277.70) rotate(-90) scale(0.830,1)" text-anchor="end" font-size="6.84" fill="#383838" stroke="#383838" stroke-width="0">Bilirubin</text>
<rect x="323.18" y="6.29" width="22.36" height="10.53" fill="#ffffff"/>
<rect x="344.94" y="6.29" width="22.36" height="10.53" fill="#faf9ff"/>
<rect x="366.70" y="6.29" width="22.36" height="10.53" fill="#ffffff"/>
<rect x="388.46" y="6.29" width="21.76" height="10.53" fill="#ffffff"/>
<rect x="323.18" y="16.22" width="22.36" height="10.53" fill="#f4f0fe"/>
<rect x="344.94" y="16.22" width="22.36" height="10.53" fill="#fefcf8"/>
<rect x="366.70" y="16.22" width="22.36" height="10.53" fill="#ffffff"/>
<rect x="388.46" y="16.22" width="21.76" height="10.53" fill="#faf6e8"/>
<rect x="323.18" y="26.15" width="22.36" height="10.53" fill="#e0d3fd"/>
<rect x="344.94" y="26.15" width="22.36" height="10.53" fill="#ffffff"/>
<rect x="366.70" y="26.15" width="22.36" height="10.53" fill="#faf9ff"/>
<rect x="388.46" y="26.15" width="21.76" height="10.53" fill="#f6eac9"/>
<rect x="323.18" y="36.07" width="22.36" height="10.53" fill="#faf9ff"/>
<rect x="344.94" y="36.07" width="22.36" height="10.53" fill="#f4f0fe"/>
<rect x="366.70" y="36.07" width="22.36" height="10.53" fill="#f4f0fe"/>
<rect x="388.46" y="36.07" width="21.76" height="10.53" fill="#ffffff"/>
<rect x="323.18" y="46.00" width="22.36" height="10.53" fill="#efeafe"/>
<rect x="344.94" y="46.00" width="22.36" height="10.53" fill="#faf9ff"/>
<rect x="366.70" y="46.00" width="22.36" height="10.53" fill="#f4f0fe"/>
<rect x="388.46" y="46.00" width="21.76" height="10.53" fill="#fefdfa"/>
<rect x="323.18" y="55.92" width="22.36" height="10.53" fill="#efeafe"/>
<rect x="344.94" y="55.92" width="22.36" height="10.53" fill="#ffffff"/>
<rect x="366.70" y="55.92" width="22.36" height="10.53" fill="#faf9ff"/>
<rect x="388.46" y="55.92" width="21.76" height="10.53" fill="#fcf9ef"/>
<rect x="323.18" y="65.85" width="22.36" height="10.53" fill="#f4f0fe"/>
<rect x="344.94" y="65.85" width="22.36" height="10.53" fill="#ffffff"/>
<rect x="366.70" y="65.85" width="22.36" height="10.53" fill="#fcfbff"/>
<rect x="388.46" y="65.85" width="21.76" height="10.53" fill="#fefcf8"/>
<rect x="323.18" y="75.78" width="22.36" height="10.53" fill="#fcfbff"/>
<rect x="344.94" y="75.78" width="22.36" height="10.53" fill="#fcf9ef"/>
<rect x="366.70" y="75.78" width="22.36" height="10.53" fill="#fcf9ef"/>
<rect x="388.46" y="75.78" width="21.76" height="10.53" fill="#fefcf8"/>
<rect x="323.18" y="85.70" width="22.36" height="10.53" fill="#faf9ff"/>
<rect x="344.94" y="85.70" width="22.36" height="10.53" fill="#f8f0d8"/>
<rect x="366.70" y="85.70" width="22.36" height="10.53" fill="#f6eac9"/>
<rect x="388.46" y="85.70" width="21.76" height="10.53" fill="#f4e4ba"/>
<rect x="323.18" y="95.63" width="22.36" height="10.53" fill="#e0d3fd"/>
<rect x="344.94" y="95.63" width="22.36" height="10.53" fill="#ffffff"/>
<rect x="366.70" y="95.63" width="22.36" height="10.53" fill="#fcfaf4"/>
<rect x="388.46" y="95.63" width="21.76" height="10.53" fill="#efce88"/>
<rect x="323.18" y="105.56" width="22.36" height="10.53" fill="#e8defe"/>
<rect x="344.94" y="105.56" width="22.36" height="10.53" fill="#fefdfa"/>
<rect x="366.70" y="105.56" width="22.36" height="10.53" fill="#fcfaf4"/>
<rect x="388.46" y="105.56" width="21.76" height="10.53" fill="#f0d699"/>
<rect x="323.18" y="115.48" width="22.36" height="10.53" fill="#efeafe"/>
<rect x="344.94" y="115.48" width="22.36" height="10.53" fill="#ffffff"/>
<rect x="366.70" y="115.48" width="22.36" height="10.53" fill="#ffffff"/>
<rect x="388.46" y="115.48" width="21.76" height="10.53" fill="#fcf9ef"/>
<rect x="323.18" y="125.41" width="22.36" height="10.53" fill="#f8f0d8"/>
<rect x="344.94" y="125.41" width="22.36" height="10.53" fill="#f6eac9"/>
<rect x="366.70" y="125.41" width="22.36" height="10.53" fill="#f2ddaa"/>
<rect x="388.46" y="125.41" width="21.76" height="10.53" fill="#faf6e8"/>
<rect x="323.18" y="135.34" width="22.36" height="10.53" fill="#f2ddaa"/>
<rect x="344.94" y="135.34" width="22.36" height="10.53" fill="#f8f0d8"/>
<rect x="366.70" y="135.34" width="22.36" height="10.53" fill="#f2ddaa"/>
<rect x="388.46" y="135.34" width="21.76" height="10.53" fill="#fefcf8"/>
<rect x="323.18" y="145.26" width="22.36" height="10.53" fill="#efce88"/>
<rect x="344.94" y="145.26" width="22.36" height="10.53" fill="#e8defe"/>
<rect x="366.70" y="145.26" width="22.36" height="10.53" fill="#ffffff"/>
<rect x="388.46" y="145.26" width="21.76" height="10.53" fill="#e0d3fd"/>
<rect x="323.18" y="155.19" width="22.36" height="10.53" fill="#faf6e8"/>
<rect x="344.94" y="155.19" width="22.36" height="10.53" fill="#efeafe"/>
<rect x="366.70" y="155.19" width="22.36" height="10.53" fill="#efeafe"/>
<rect x="388.46" y="155.19" width="21.76" height="10.53" fill="#cdb6fc"/>
<rect x="323.18" y="165.12" width="22.36" height="10.53" fill="#efeafe"/>
<rect x="344.94" y="165.12" width="22.36" height="10.53" fill="#fcf9ef"/>
<rect x="366.70" y="165.12" width="22.36" height="10.53" fill="#fcfaf4"/>
<rect x="388.46" y="165.12" width="21.76" height="10.53" fill="#f8f0d8"/>
<rect x="323.18" y="175.04" width="22.36" height="10.53" fill="#e8defe"/>
<rect x="344.94" y="175.04" width="22.36" height="10.53" fill="#ffffff"/>
<rect x="366.70" y="175.04" width="22.36" height="10.53" fill="#faf9ff"/>
<rect x="388.46" y="175.04" width="21.76" height="10.53" fill="#faf6e8"/>
<rect x="323.18" y="184.97" width="22.36" height="10.53" fill="#e8defe"/>
<rect x="344.94" y="184.97" width="22.36" height="10.53" fill="#fefcf8"/>
<rect x="366.70" y="184.97" width="22.36" height="10.53" fill="#ffffff"/>
<rect x="388.46" y="184.97" width="21.76" height="10.53" fill="#f8f0d8"/>
<rect x="323.18" y="194.90" width="22.36" height="10.53" fill="#ffffff"/>
<rect x="344.94" y="194.90" width="22.36" height="10.53" fill="#faf6e8"/>
<rect x="366.70" y="194.90" width="22.36" height="10.53" fill="#faf6e8"/>
<rect x="388.46" y="194.90" width="21.76" height="10.53" fill="#ffffff"/>
<rect x="323.18" y="204.82" width="22.36" height="10.53" fill="#cdb6fc"/>
<rect x="344.94" y="204.82" width="22.36" height="10.53" fill="#ffffff"/>
<rect x="366.70" y="204.82" width="22.36" height="10.53" fill="#f4f0fe"/>
<rect x="388.46" y="204.82" width="21.76" height="10.53" fill="#f6eac9"/>
<rect x="323.18" y="214.75" width="22.36" height="10.53" fill="#cdb6fc"/>
<rect x="344.94" y="214.75" width="22.36" height="10.53" fill="#fefcf8"/>
<rect x="366.70" y="214.75" width="22.36" height="10.53" fill="#fefdfa"/>
<rect x="388.46" y="214.75" width="21.76" height="10.53" fill="#f6eac9"/>
<rect x="323.18" y="224.67" width="22.36" height="10.53" fill="#cdb6fc"/>
<rect x="344.94" y="224.67" width="22.36" height="10.53" fill="#faf6e8"/>
<rect x="366.70" y="224.67" width="22.36" height="10.53" fill="#fcfaf4"/>
<rect x="388.46" y="224.67" width="21.76" height="10.53" fill="#f2ddaa"/>
<rect x="323.18" y="234.60" width="22.36" height="10.53" fill="#e0d3fd"/>
<rect x="344.94" y="234.60" width="22.36" height="10.53" fill="#fefcf8"/>
<rect x="366.70" y="234.60" width="22.36" height="10.53" fill="#fefcf8"/>
<rect x="388.46" y="234.60" width="21.76" height="10.53" fill="#f4e4ba"/>
<rect x="323.18" y="244.53" width="22.36" height="10.53" fill="#e8defe"/>
<rect x="344.94" y="244.53" width="22.36" height="10.53" fill="#fefcf8"/>
<rect x="366.70" y="244.53" width="22.36" height="10.53" fill="#fcfaf4"/>
<rect x="388.46" y="244.53" width="21.76" height="10.53" fill="#f8f0d8"/>
<rect x="323.18" y="254.45" width="22.36" height="10.53" fill="#faf9ff"/>
<rect x="344.94" y="254.45" width="22.36" height="10.53" fill="#faf6e8"/>
<rect x="366.70" y="254.45" width="22.36" height="10.53" fill="#faf6e8"/>
<rect x="388.46" y="254.45" width="21.76" height="10.53" fill="#f8f0d8"/>
<rect x="323.18" y="264.38" width="22.36" height="9.93" fill="#faf6e8"/>
<rect x="344.94" y="264.38" width="22.36" height="9.93" fill="#f4e4ba"/>
<rect x="366.70" y="264.38" width="22.36" height="9.93" fill="#efce88"/>
<rect x="388.46" y="264.38" width="21.76" height="9.93" fill="#eec474"/>
<ellipse cx="334.06" cy="21.18" rx="0.85" ry="1.05" fill="#111"/>
<ellipse cx="399.34" cy="21.18" rx="0.85" ry="1.05" fill="#111"/>
<ellipse cx="334.06" cy="31.11" rx="0.85" ry="1.05" fill="#111"/>
<ellipse cx="399.34" cy="31.11" rx="0.85" ry="1.05" fill="#111"/>
<ellipse cx="355.82" cy="41.04" rx="0.85" ry="1.05" fill="#111"/>
<ellipse cx="377.58" cy="41.04" rx="0.85" ry="1.05" fill="#111"/>
<ellipse cx="334.06" cy="50.96" rx="0.85" ry="1.05" fill="#111"/>
<ellipse cx="377.58" cy="50.96" rx="0.85" ry="1.05" fill="#111"/>
<ellipse cx="334.06" cy="60.89" rx="0.85" ry="1.05" fill="#111"/>
<ellipse cx="399.34" cy="60.89" rx="0.85" ry="1.05" fill="#111"/>
<ellipse cx="334.06" cy="70.81" rx="0.85" ry="1.05" fill="#111"/>
<ellipse cx="399.34" cy="70.81" rx="0.85" ry="1.05" fill="#111"/>
<ellipse cx="355.82" cy="80.74" rx="0.85" ry="1.05" fill="#111"/>
<ellipse cx="377.58" cy="80.74" rx="0.85" ry="1.05" fill="#111"/>
<ellipse cx="355.82" cy="90.67" rx="0.85" ry="1.05" fill="#111"/>
<ellipse cx="377.58" cy="90.67" rx="0.85" ry="1.05" fill="#111"/>
<ellipse cx="399.34" cy="90.67" rx="0.85" ry="1.05" fill="#111"/>
<ellipse cx="334.06" cy="100.59" rx="0.85" ry="1.05" fill="#111"/>
<ellipse cx="377.58" cy="100.59" rx="0.85" ry="1.05" fill="#111"/>
<ellipse cx="399.34" cy="100.59" rx="0.85" ry="1.05" fill="#111"/>
<ellipse cx="334.06" cy="110.52" rx="0.85" ry="1.05" fill="#111"/>
<ellipse cx="355.82" cy="110.52" rx="0.75" ry="1.05" fill="#8c8c8c"/>
<ellipse cx="377.58" cy="110.52" rx="0.85" ry="1.05" fill="#111"/>
<ellipse cx="399.34" cy="110.52" rx="0.85" ry="1.05" fill="#111"/>
<ellipse cx="334.06" cy="120.45" rx="0.85" ry="1.05" fill="#111"/>
<ellipse cx="399.34" cy="120.45" rx="0.85" ry="1.05" fill="#111"/>
<ellipse cx="334.06" cy="130.37" rx="0.85" ry="1.05" fill="#111"/>
<ellipse cx="355.82" cy="130.37" rx="0.85" ry="1.05" fill="#111"/>
<ellipse cx="377.58" cy="130.37" rx="0.85" ry="1.05" fill="#111"/>
<ellipse cx="399.34" cy="130.37" rx="0.85" ry="1.05" fill="#111"/>
<ellipse cx="334.06" cy="140.30" rx="0.85" ry="1.05" fill="#111"/>
<ellipse cx="355.82" cy="140.30" rx="0.85" ry="1.05" fill="#111"/>
<ellipse cx="377.58" cy="140.30" rx="0.85" ry="1.05" fill="#111"/>
<ellipse cx="399.34" cy="140.30" rx="0.85" ry="1.05" fill="#111"/>
<ellipse cx="334.06" cy="150.23" rx="0.85" ry="1.05" fill="#111"/>
<ellipse cx="355.82" cy="150.23" rx="0.85" ry="1.05" fill="#111"/>
<ellipse cx="399.34" cy="150.23" rx="0.85" ry="1.05" fill="#111"/>
<ellipse cx="334.06" cy="160.15" rx="0.85" ry="1.05" fill="#111"/>
<ellipse cx="355.82" cy="160.15" rx="0.85" ry="1.05" fill="#111"/>
<ellipse cx="377.58" cy="160.15" rx="0.85" ry="1.05" fill="#111"/>
<ellipse cx="399.34" cy="160.15" rx="0.85" ry="1.05" fill="#111"/>
<ellipse cx="334.06" cy="170.08" rx="0.85" ry="1.05" fill="#111"/>
<ellipse cx="355.82" cy="170.08" rx="0.85" ry="1.05" fill="#111"/>
<ellipse cx="377.58" cy="170.08" rx="0.85" ry="1.05" fill="#111"/>
<ellipse cx="399.34" cy="170.08" rx="0.85" ry="1.05" fill="#111"/>
<ellipse cx="334.06" cy="180.01" rx="0.85" ry="1.05" fill="#111"/>
<ellipse cx="399.34" cy="180.01" rx="0.85" ry="1.05" fill="#111"/>
<ellipse cx="334.06" cy="189.93" rx="0.85" ry="1.05" fill="#111"/>
<ellipse cx="355.82" cy="189.93" rx="0.85" ry="1.05" fill="#111"/>
<ellipse cx="399.34" cy="189.93" rx="0.85" ry="1.05" fill="#111"/>
<ellipse cx="355.82" cy="199.86" rx="0.85" ry="1.05" fill="#111"/>
<ellipse cx="377.58" cy="199.86" rx="0.85" ry="1.05" fill="#111"/>
<ellipse cx="334.06" cy="209.79" rx="0.85" ry="1.05" fill="#111"/>
<ellipse cx="399.34" cy="209.79" rx="0.85" ry="1.05" fill="#111"/>
<ellipse cx="334.06" cy="219.71" rx="0.85" ry="1.05" fill="#111"/>
<ellipse cx="355.82" cy="219.71" rx="0.85" ry="1.05" fill="#111"/>
<ellipse cx="399.34" cy="219.71" rx="0.85" ry="1.05" fill="#111"/>
<ellipse cx="334.06" cy="229.64" rx="0.85" ry="1.05" fill="#111"/>
<ellipse cx="355.82" cy="229.64" rx="0.85" ry="1.05" fill="#111"/>
<ellipse cx="377.58" cy="229.64" rx="0.85" ry="1.05" fill="#111"/>
<ellipse cx="399.34" cy="229.64" rx="0.85" ry="1.05" fill="#111"/>
<ellipse cx="334.06" cy="239.56" rx="0.85" ry="1.05" fill="#111"/>
<ellipse cx="377.58" cy="239.56" rx="0.85" ry="1.05" fill="#111"/>
<ellipse cx="399.34" cy="239.56" rx="0.85" ry="1.05" fill="#111"/>
<ellipse cx="334.06" cy="249.49" rx="0.85" ry="1.05" fill="#111"/>
<ellipse cx="355.82" cy="249.49" rx="0.85" ry="1.05" fill="#111"/>
<ellipse cx="377.58" cy="249.49" rx="0.85" ry="1.05" fill="#111"/>
<ellipse cx="399.34" cy="249.49" rx="0.85" ry="1.05" fill="#111"/>
<ellipse cx="355.82" cy="259.42" rx="0.85" ry="1.05" fill="#111"/>
<ellipse cx="377.58" cy="259.42" rx="0.85" ry="1.05" fill="#111"/>
<ellipse cx="399.34" cy="259.42" rx="0.85" ry="1.05" fill="#111"/>
<ellipse cx="334.06" cy="269.34" rx="0.85" ry="1.05" fill="#111"/>
<ellipse cx="355.82" cy="269.34" rx="0.85" ry="1.05" fill="#111"/>
<ellipse cx="377.58" cy="269.34" rx="0.85" ry="1.05" fill="#111"/>
<ellipse cx="399.34" cy="269.34" rx="0.85" ry="1.05" fill="#111"/>
<rect x="321.00" y="5.30" width="91.40" height="270.00" fill="none" stroke="#9a9a9a" stroke-width="0.75"/>
<line x1="334.06" y1="275.30" x2="334.06" y2="276.90" stroke="#555" stroke-width="0.5"/>
<text transform="translate(336.46,277.70) rotate(-90) scale(0.830,1)" text-anchor="end" font-size="6.84" fill="#383838" stroke="#383838" stroke-width="0">HDL-C</text>
<line x1="355.82" y1="275.30" x2="355.82" y2="276.90" stroke="#555" stroke-width="0.5"/>
<text transform="translate(358.22,277.70) rotate(-90) scale(0.830,1)" text-anchor="end" font-size="6.84" fill="#383838" stroke="#383838" stroke-width="0">LDL-C</text>
<line x1="377.58" y1="275.30" x2="377.58" y2="276.90" stroke="#555" stroke-width="0.5"/>
<text transform="translate(379.98,277.70) rotate(-90) scale(0.830,1)" text-anchor="end" font-size="6.84" fill="#383838" stroke="#383838" stroke-width="0">TC</text>
<line x1="399.34" y1="275.30" x2="399.34" y2="276.90" stroke="#555" stroke-width="0.5"/>
<text transform="translate(401.74,277.70) rotate(-90) scale(0.830,1)" text-anchor="end" font-size="6.84" fill="#383838" stroke="#383838" stroke-width="0">TG</text>
<rect x="417.69" y="6.29" width="22.46" height="10.53" fill="#efeafe"/>
<rect x="439.55" y="6.29" width="21.86" height="10.53" fill="#e8defe"/>
<rect x="417.69" y="16.22" width="22.46" height="10.53" fill="#fefcf8"/>
<rect x="439.55" y="16.22" width="21.86" height="10.53" fill="#faf9ff"/>
<rect x="417.69" y="26.15" width="22.46" height="10.53" fill="#e0d3fd"/>
<rect x="439.55" y="26.15" width="21.86" height="10.53" fill="#f7f4fe"/>
<rect x="417.69" y="36.07" width="22.46" height="10.53" fill="#efeafe"/>
<rect x="439.55" y="36.07" width="21.86" height="10.53" fill="#fcfaf4"/>
<rect x="417.69" y="46.00" width="22.46" height="10.53" fill="#f8f0d8"/>
<rect x="439.55" y="46.00" width="21.86" height="10.53" fill="#fefcf8"/>
<rect x="417.69" y="55.92" width="22.46" height="10.53" fill="#fcf9ef"/>
<rect x="439.55" y="55.92" width="21.86" height="10.53" fill="#fcf9ef"/>
<rect x="417.69" y="65.85" width="22.46" height="10.53" fill="#fefdfa"/>
<rect x="439.55" y="65.85" width="21.86" height="10.53" fill="#fefdfa"/>
<rect x="417.69" y="75.78" width="22.46" height="10.53" fill="#e8defe"/>
<rect x="439.55" y="75.78" width="21.86" height="10.53" fill="#ffffff"/>
<rect x="417.69" y="85.70" width="22.46" height="10.53" fill="#efeafe"/>
<rect x="439.55" y="85.70" width="21.86" height="10.53" fill="#ffffff"/>
<rect x="417.69" y="95.63" width="22.46" height="10.53" fill="#faf9ff"/>
<rect x="439.55" y="95.63" width="21.86" height="10.53" fill="#faf6e8"/>
<rect x="417.69" y="105.56" width="22.46" height="10.53" fill="#ffffff"/>
<rect x="439.55" y="105.56" width="21.86" height="10.53" fill="#faf6e8"/>
<rect x="417.69" y="115.48" width="22.46" height="10.53" fill="#f8f0d8"/>
<rect x="439.55" y="115.48" width="21.86" height="10.53" fill="#f6eac9"/>
<rect x="417.69" y="125.41" width="22.46" height="10.53" fill="#f8f0d8"/>
<rect x="439.55" y="125.41" width="21.86" height="10.53" fill="#faf6e8"/>
<rect x="417.69" y="135.34" width="22.46" height="10.53" fill="#cdb6fc"/>
<rect x="439.55" y="135.34" width="21.86" height="10.53" fill="#e8defe"/>
<rect x="417.69" y="145.26" width="22.46" height="10.53" fill="#cdb6fc"/>
<rect x="439.55" y="145.26" width="21.86" height="10.53" fill="#d6c4fc"/>
<rect x="417.69" y="155.19" width="22.46" height="10.53" fill="#faf9ff"/>
<rect x="439.55" y="155.19" width="21.86" height="10.53" fill="#e8defe"/>
<rect x="417.69" y="165.12" width="22.46" height="10.53" fill="#f4e4ba"/>
<rect x="439.55" y="165.12" width="21.86" height="10.53" fill="#edbb5f"/>
<rect x="417.69" y="175.04" width="22.46" height="10.53" fill="#f6eac9"/>
<rect x="439.55" y="175.04" width="21.86" height="10.53" fill="#edbb5f"/>
<rect x="417.69" y="184.97" width="22.46" height="10.53" fill="#f0d699"/>
<rect x="439.55" y="184.97" width="21.86" height="10.53" fill="#ebad42"/>
<rect x="417.69" y="194.90" width="22.46" height="10.53" fill="#f2ddaa"/>
<rect x="439.55" y="194.90" width="21.86" height="10.53" fill="#f8f0d8"/>
<rect x="417.69" y="204.82" width="22.46" height="10.53" fill="#f2ddaa"/>
<rect x="439.55" y="204.82" width="21.86" height="10.53" fill="#fefcf8"/>
<rect x="417.69" y="214.75" width="22.46" height="10.53" fill="#f4e4ba"/>
<rect x="439.55" y="214.75" width="21.86" height="10.53" fill="#f8f0d8"/>
<rect x="417.69" y="224.67" width="22.46" height="10.53" fill="#f0d699"/>
<rect x="439.55" y="224.67" width="21.86" height="10.53" fill="#f2ddaa"/>
<rect x="417.69" y="234.60" width="22.46" height="10.53" fill="#f4e4ba"/>
<rect x="439.55" y="234.60" width="21.86" height="10.53" fill="#f2ddaa"/>
<rect x="417.69" y="244.53" width="22.46" height="10.53" fill="#faf6e8"/>
<rect x="439.55" y="244.53" width="21.86" height="10.53" fill="#fcfaf4"/>
<rect x="417.69" y="254.45" width="22.46" height="10.53" fill="#fcfaf4"/>
<rect x="439.55" y="254.45" width="21.86" height="10.53" fill="#fcfaf4"/>
<rect x="417.69" y="264.38" width="22.46" height="9.93" fill="#faf6e8"/>
<rect x="439.55" y="264.38" width="21.86" height="9.93" fill="#f8f0d8"/>
<ellipse cx="428.62" cy="11.26" rx="0.85" ry="1.05" fill="#111"/>
<ellipse cx="450.48" cy="11.26" rx="0.85" ry="1.05" fill="#111"/>
<ellipse cx="428.62" cy="31.11" rx="0.85" ry="1.05" fill="#111"/>
<ellipse cx="450.48" cy="31.11" rx="0.75" ry="1.05" fill="#8c8c8c"/>
<ellipse cx="428.62" cy="41.04" rx="0.85" ry="1.05" fill="#111"/>
<ellipse cx="450.48" cy="41.04" rx="0.85" ry="1.05" fill="#111"/>
<ellipse cx="428.62" cy="50.96" rx="0.85" ry="1.05" fill="#111"/>
<ellipse cx="450.48" cy="50.96" rx="0.85" ry="1.05" fill="#111"/>
<ellipse cx="428.62" cy="60.89" rx="0.85" ry="1.05" fill="#111"/>
<ellipse cx="450.48" cy="60.89" rx="0.85" ry="1.05" fill="#111"/>
<ellipse cx="450.48" cy="70.81" rx="0.85" ry="1.05" fill="#111"/>
<ellipse cx="428.62" cy="80.74" rx="0.85" ry="1.05" fill="#111"/>
<ellipse cx="428.62" cy="90.67" rx="0.85" ry="1.05" fill="#111"/>
<ellipse cx="450.48" cy="100.59" rx="0.85" ry="1.05" fill="#111"/>
<ellipse cx="450.48" cy="110.52" rx="0.85" ry="1.05" fill="#111"/>
<ellipse cx="428.62" cy="120.45" rx="0.85" ry="1.05" fill="#111"/>
<ellipse cx="450.48" cy="120.45" rx="0.85" ry="1.05" fill="#111"/>
<ellipse cx="428.62" cy="130.37" rx="0.85" ry="1.05" fill="#111"/>
<ellipse cx="450.48" cy="130.37" rx="0.85" ry="1.05" fill="#111"/>
<ellipse cx="428.62" cy="140.30" rx="0.85" ry="1.05" fill="#111"/>
<ellipse cx="450.48" cy="140.30" rx="0.85" ry="1.05" fill="#111"/>
<ellipse cx="428.62" cy="150.23" rx="0.85" ry="1.05" fill="#111"/>
<ellipse cx="450.48" cy="150.23" rx="0.85" ry="1.05" fill="#111"/>
<ellipse cx="450.48" cy="160.15" rx="0.85" ry="1.05" fill="#111"/>
<ellipse cx="428.62" cy="170.08" rx="0.85" ry="1.05" fill="#111"/>
<ellipse cx="450.48" cy="170.08" rx="0.85" ry="1.05" fill="#111"/>
<ellipse cx="428.62" cy="180.01" rx="0.85" ry="1.05" fill="#111"/>
<ellipse cx="450.48" cy="180.01" rx="0.85" ry="1.05" fill="#111"/>
<ellipse cx="428.62" cy="189.93" rx="0.85" ry="1.05" fill="#111"/>
<ellipse cx="450.48" cy="189.93" rx="0.85" ry="1.05" fill="#111"/>
<ellipse cx="428.62" cy="199.86" rx="0.85" ry="1.05" fill="#111"/>
<ellipse cx="450.48" cy="199.86" rx="0.85" ry="1.05" fill="#111"/>
<ellipse cx="428.62" cy="209.79" rx="0.85" ry="1.05" fill="#111"/>
<ellipse cx="450.48" cy="209.79" rx="0.75" ry="1.05" fill="#8c8c8c"/>
<ellipse cx="428.62" cy="219.71" rx="0.85" ry="1.05" fill="#111"/>
<ellipse cx="450.48" cy="219.71" rx="0.85" ry="1.05" fill="#111"/>
<ellipse cx="428.62" cy="229.64" rx="0.85" ry="1.05" fill="#111"/>
<ellipse cx="450.48" cy="229.64" rx="0.85" ry="1.05" fill="#111"/>
<ellipse cx="428.62" cy="239.56" rx="0.85" ry="1.05" fill="#111"/>
<ellipse cx="450.48" cy="239.56" rx="0.85" ry="1.05" fill="#111"/>
<ellipse cx="428.62" cy="249.49" rx="0.85" ry="1.05" fill="#111"/>
<ellipse cx="450.48" cy="249.49" rx="0.85" ry="1.05" fill="#111"/>
<ellipse cx="428.62" cy="259.42" rx="0.85" ry="1.05" fill="#111"/>
<ellipse cx="450.48" cy="259.42" rx="0.85" ry="1.05" fill="#111"/>
<ellipse cx="428.62" cy="269.34" rx="0.85" ry="1.05" fill="#111"/>
<ellipse cx="450.48" cy="269.34" rx="0.85" ry="1.05" fill="#111"/>
<rect x="415.50" y="5.30" width="48.10" height="270.00" fill="none" stroke="#9a9a9a" stroke-width="0.75"/>
<line x1="428.62" y1="275.30" x2="428.62" y2="276.90" stroke="#555" stroke-width="0.5"/>
<text transform="translate(431.02,277.70) rotate(-90) scale(0.830,1)" text-anchor="end" font-size="6.84" fill="#383838" stroke="#383838" stroke-width="0">hs-CRP</text>
<line x1="450.48" y1="275.30" x2="450.48" y2="276.90" stroke="#555" stroke-width="0.5"/>
<text transform="translate(452.88,277.70) rotate(-90) scale(0.830,1)" text-anchor="end" font-size="6.84" fill="#383838" stroke="#383838" stroke-width="0">WBC</text>
<rect x="468.79" y="6.29" width="22.48" height="10.53" fill="#f8f0d8"/>
<rect x="490.67" y="6.29" width="22.48" height="10.53" fill="#faf6e8"/>
<rect x="512.56" y="6.29" width="22.48" height="10.53" fill="#fcf9ef"/>
<rect x="534.44" y="6.29" width="22.48" height="10.53" fill="#f6eac9"/>
<rect x="556.33" y="6.29" width="21.88" height="10.53" fill="#fcfaf4"/>
<rect x="468.79" y="16.22" width="22.48" height="10.53" fill="#faf6e8"/>
<rect x="490.67" y="16.22" width="22.48" height="10.53" fill="#faf6e8"/>
<rect x="512.56" y="16.22" width="22.48" height="10.53" fill="#ffffff"/>
<rect x="534.44" y="16.22" width="22.48" height="10.53" fill="#fefcf8"/>
<rect x="556.33" y="16.22" width="21.88" height="10.53" fill="#fcfaf4"/>
<rect x="468.79" y="26.15" width="22.48" height="10.53" fill="#f4e4ba"/>
<rect x="490.67" y="26.15" width="22.48" height="10.53" fill="#f4e4ba"/>
<rect x="512.56" y="26.15" width="22.48" height="10.53" fill="#f6eac9"/>
<rect x="534.44" y="26.15" width="22.48" height="10.53" fill="#f6eac9"/>
<rect x="556.33" y="26.15" width="21.88" height="10.53" fill="#fcf9ef"/>
<rect x="468.79" y="36.07" width="22.48" height="10.53" fill="#fefdfa"/>
<rect x="490.67" y="36.07" width="22.48" height="10.53" fill="#fefdfa"/>
<rect x="512.56" y="36.07" width="22.48" height="10.53" fill="#faf9ff"/>
<rect x="534.44" y="36.07" width="22.48" height="10.53" fill="#fefdfa"/>
<rect x="556.33" y="36.07" width="21.88" height="10.53" fill="#e8defe"/>
<rect x="468.79" y="46.00" width="22.48" height="10.53" fill="#faf6e8"/>
<rect x="490.67" y="46.00" width="22.48" height="10.53" fill="#fcfaf4"/>
<rect x="512.56" y="46.00" width="22.48" height="10.53" fill="#ffffff"/>
<rect x="534.44" y="46.00" width="22.48" height="10.53" fill="#fefdfa"/>
<rect x="556.33" y="46.00" width="21.88" height="10.53" fill="#e8defe"/>
<rect x="468.79" y="55.92" width="22.48" height="10.53" fill="#fcfbff"/>
<rect x="490.67" y="55.92" width="22.48" height="10.53" fill="#ffffff"/>
<rect x="512.56" y="55.92" width="22.48" height="10.53" fill="#ffffff"/>
<rect x="534.44" y="55.92" width="22.48" height="10.53" fill="#fefdfa"/>
<rect x="556.33" y="55.92" width="21.88" height="10.53" fill="#e8defe"/>
<rect x="468.79" y="65.85" width="22.48" height="10.53" fill="#ffffff"/>
<rect x="490.67" y="65.85" width="22.48" height="10.53" fill="#ffffff"/>
<rect x="512.56" y="65.85" width="22.48" height="10.53" fill="#ffffff"/>
<rect x="534.44" y="65.85" width="22.48" height="10.53" fill="#ffffff"/>
<rect x="556.33" y="65.85" width="21.88" height="10.53" fill="#fefdfa"/>
<rect x="468.79" y="75.78" width="22.48" height="10.53" fill="#fefcf8"/>
<rect x="490.67" y="75.78" width="22.48" height="10.53" fill="#fcfaf4"/>
<rect x="512.56" y="75.78" width="22.48" height="10.53" fill="#fcfaf4"/>
<rect x="534.44" y="75.78" width="22.48" height="10.53" fill="#fcfaf4"/>
<rect x="556.33" y="75.78" width="21.88" height="10.53" fill="#ffffff"/>
<rect x="468.79" y="85.70" width="22.48" height="10.53" fill="#fefcf8"/>
<rect x="490.67" y="85.70" width="22.48" height="10.53" fill="#fcfaf4"/>
<rect x="512.56" y="85.70" width="22.48" height="10.53" fill="#fcfaf4"/>
<rect x="534.44" y="85.70" width="22.48" height="10.53" fill="#ffffff"/>
<rect x="556.33" y="85.70" width="21.88" height="10.53" fill="#faf9ff"/>
<rect x="468.79" y="95.63" width="22.48" height="10.53" fill="#f2ddaa"/>
<rect x="490.67" y="95.63" width="22.48" height="10.53" fill="#f4e4ba"/>
<rect x="512.56" y="95.63" width="22.48" height="10.53" fill="#f4e4ba"/>
<rect x="534.44" y="95.63" width="22.48" height="10.53" fill="#f8f0d8"/>
<rect x="556.33" y="95.63" width="21.88" height="10.53" fill="#fcfaf4"/>
<rect x="468.79" y="105.56" width="22.48" height="10.53" fill="#f4e4ba"/>
<rect x="490.67" y="105.56" width="22.48" height="10.53" fill="#f6eac9"/>
<rect x="512.56" y="105.56" width="22.48" height="10.53" fill="#f4e4ba"/>
<rect x="534.44" y="105.56" width="22.48" height="10.53" fill="#f6eac9"/>
<rect x="556.33" y="105.56" width="21.88" height="10.53" fill="#fefcf8"/>
<rect x="468.79" y="115.48" width="22.48" height="10.53" fill="#f8f0d8"/>
<rect x="490.67" y="115.48" width="22.48" height="10.53" fill="#faf6e8"/>
<rect x="512.56" y="115.48" width="22.48" height="10.53" fill="#faf6e8"/>
<rect x="534.44" y="115.48" width="22.48" height="10.53" fill="#fcfaf4"/>
<rect x="556.33" y="115.48" width="21.88" height="10.53" fill="#fcfaf4"/>
<rect x="468.79" y="125.41" width="22.48" height="10.53" fill="#fcfaf4"/>
<rect x="490.67" y="125.41" width="22.48" height="10.53" fill="#fefcf8"/>
<rect x="512.56" y="125.41" width="22.48" height="10.53" fill="#faf6e8"/>
<rect x="534.44" y="125.41" width="22.48" height="10.53" fill="#f7f4fe"/>
<rect x="556.33" y="125.41" width="21.88" height="10.53" fill="#ffffff"/>
<rect x="468.79" y="135.34" width="22.48" height="10.53" fill="#fcfaf4"/>
<rect x="490.67" y="135.34" width="22.48" height="10.53" fill="#fcfaf4"/>
<rect x="512.56" y="135.34" width="22.48" height="10.53" fill="#fcfbff"/>
<rect x="534.44" y="135.34" width="22.48" height="10.53" fill="#ffffff"/>
<rect x="556.33" y="135.34" width="21.88" height="10.53" fill="#faf6e8"/>
<rect x="468.79" y="145.26" width="22.48" height="10.53" fill="#faf9ff"/>
<rect x="490.67" y="145.26" width="22.48" height="10.53" fill="#fcfbff"/>
<rect x="512.56" y="145.26" width="22.48" height="10.53" fill="#e8defe"/>
<rect x="534.44" y="145.26" width="22.48" height="10.53" fill="#fcf9ef"/>
<rect x="556.33" y="145.26" width="21.88" height="10.53" fill="#fefcf8"/>
<rect x="468.79" y="155.19" width="22.48" height="10.53" fill="#e0d3fd"/>
<rect x="490.67" y="155.19" width="22.48" height="10.53" fill="#f4f0fe"/>
<rect x="512.56" y="155.19" width="22.48" height="10.53" fill="#e0d3fd"/>
<rect x="534.44" y="155.19" width="22.48" height="10.53" fill="#faf9ff"/>
<rect x="556.33" y="155.19" width="21.88" height="10.53" fill="#fefdfa"/>
<rect x="468.79" y="165.12" width="22.48" height="10.53" fill="#ffffff"/>
<rect x="490.67" y="165.12" width="22.48" height="10.53" fill="#ffffff"/>
<rect x="512.56" y="165.12" width="22.48" height="10.53" fill="#faf9ff"/>
<rect x="534.44" y="165.12" width="22.48" height="10.53" fill="#fcfbff"/>
<rect x="556.33" y="165.12" width="21.88" height="10.53" fill="#ffffff"/>
<rect x="468.79" y="175.04" width="22.48" height="10.53" fill="#ffffff"/>
<rect x="490.67" y="175.04" width="22.48" height="10.53" fill="#ffffff"/>
<rect x="512.56" y="175.04" width="22.48" height="10.53" fill="#fefdfa"/>
<rect x="534.44" y="175.04" width="22.48" height="10.53" fill="#faf9ff"/>
<rect x="556.33" y="175.04" width="21.88" height="10.53" fill="#ffffff"/>
<rect x="468.79" y="184.97" width="22.48" height="10.53" fill="#fefcf8"/>
<rect x="490.67" y="184.97" width="22.48" height="10.53" fill="#fcfaf4"/>
<rect x="512.56" y="184.97" width="22.48" height="10.53" fill="#fefcf8"/>
<rect x="534.44" y="184.97" width="22.48" height="10.53" fill="#efeafe"/>
<rect x="556.33" y="184.97" width="21.88" height="10.53" fill="#fdfdff"/>
<rect x="468.79" y="194.90" width="22.48" height="10.53" fill="#c3a8fc"/>
<rect x="490.67" y="194.90" width="22.48" height="10.53" fill="#cdb6fc"/>
<rect x="512.56" y="194.90" width="22.48" height="10.53" fill="#c3a8fc"/>
<rect x="534.44" y="194.90" width="22.48" height="10.53" fill="#ac84fa"/>
<rect x="556.33" y="194.90" width="21.88" height="10.53" fill="#f7f4fe"/>
<rect x="468.79" y="204.82" width="22.48" height="10.53" fill="#f8f0d8"/>
<rect x="490.67" y="204.82" width="22.48" height="10.53" fill="#f8f0d8"/>
<rect x="512.56" y="204.82" width="22.48" height="10.53" fill="#f8f0d8"/>
<rect x="534.44" y="204.82" width="22.48" height="10.53" fill="#ffffff"/>
<rect x="556.33" y="204.82" width="21.88" height="10.53" fill="#fefcf8"/>
<rect x="468.79" y="214.75" width="22.48" height="10.53" fill="#f6eac9"/>
<rect x="490.67" y="214.75" width="22.48" height="10.53" fill="#f6eac9"/>
<rect x="512.56" y="214.75" width="22.48" height="10.53" fill="#f6eac9"/>
<rect x="534.44" y="214.75" width="22.48" height="10.53" fill="#faf6e8"/>
<rect x="556.33" y="214.75" width="21.88" height="10.53" fill="#faf6e8"/>
<rect x="468.79" y="224.67" width="22.48" height="10.53" fill="#f8f0d8"/>
<rect x="490.67" y="224.67" width="22.48" height="10.53" fill="#f6eac9"/>
<rect x="512.56" y="224.67" width="22.48" height="10.53" fill="#f8f0d8"/>
<rect x="534.44" y="224.67" width="22.48" height="10.53" fill="#faf9ff"/>
<rect x="556.33" y="224.67" width="21.88" height="10.53" fill="#faf6e8"/>
<rect x="468.79" y="234.60" width="22.48" height="10.53" fill="#f6eac9"/>
<rect x="490.67" y="234.60" width="22.48" height="10.53" fill="#f4e4ba"/>
<rect x="512.56" y="234.60" width="22.48" height="10.53" fill="#faf6e8"/>
<rect x="534.44" y="234.60" width="22.48" height="10.53" fill="#fefcf8"/>
<rect x="556.33" y="234.60" width="21.88" height="10.53" fill="#faf6e8"/>
<rect x="468.79" y="244.53" width="22.48" height="10.53" fill="#f8f0d8"/>
<rect x="490.67" y="244.53" width="22.48" height="10.53" fill="#f8f0d8"/>
<rect x="512.56" y="244.53" width="22.48" height="10.53" fill="#faf6e8"/>
<rect x="534.44" y="244.53" width="22.48" height="10.53" fill="#fcfbff"/>
<rect x="556.33" y="244.53" width="21.88" height="10.53" fill="#ffffff"/>
<rect x="468.79" y="254.45" width="22.48" height="10.53" fill="#f8f0d8"/>
<rect x="490.67" y="254.45" width="22.48" height="10.53" fill="#f8f0d8"/>
<rect x="512.56" y="254.45" width="22.48" height="10.53" fill="#faf6e8"/>
<rect x="534.44" y="254.45" width="22.48" height="10.53" fill="#faf9ff"/>
<rect x="556.33" y="254.45" width="21.88" height="10.53" fill="#fefcf8"/>
<rect x="468.79" y="264.38" width="22.48" height="9.93" fill="#ebaf46"/>
<rect x="490.67" y="264.38" width="22.48" height="9.93" fill="#ebaf46"/>
<rect x="512.56" y="264.38" width="22.48" height="9.93" fill="#edbb5f"/>
<rect x="534.44" y="264.38" width="22.48" height="9.93" fill="#f2ddaa"/>
<rect x="556.33" y="264.38" width="21.88" height="9.93" fill="#fcf9ef"/>
<ellipse cx="479.73" cy="11.26" rx="0.85" ry="1.05" fill="#111"/>
<ellipse cx="501.62" cy="11.26" rx="0.85" ry="1.05" fill="#111"/>
<ellipse cx="523.50" cy="11.26" rx="0.85" ry="1.05" fill="#111"/>
<ellipse cx="545.38" cy="11.26" rx="0.85" ry="1.05" fill="#111"/>
<ellipse cx="567.27" cy="11.26" rx="0.85" ry="1.05" fill="#111"/>
<ellipse cx="479.73" cy="21.18" rx="0.85" ry="1.05" fill="#111"/>
<ellipse cx="501.62" cy="21.18" rx="0.85" ry="1.05" fill="#111"/>
<ellipse cx="545.38" cy="21.18" rx="0.85" ry="1.05" fill="#111"/>
<ellipse cx="567.27" cy="21.18" rx="0.85" ry="1.05" fill="#111"/>
<ellipse cx="479.73" cy="31.11" rx="0.85" ry="1.05" fill="#111"/>
<ellipse cx="501.62" cy="31.11" rx="0.85" ry="1.05" fill="#111"/>
<ellipse cx="523.50" cy="31.11" rx="0.85" ry="1.05" fill="#111"/>
<ellipse cx="545.38" cy="31.11" rx="0.85" ry="1.05" fill="#111"/>
<ellipse cx="567.27" cy="31.11" rx="0.85" ry="1.05" fill="#111"/>
<ellipse cx="567.27" cy="41.04" rx="0.85" ry="1.05" fill="#111"/>
<ellipse cx="479.73" cy="50.96" rx="0.85" ry="1.05" fill="#111"/>
<ellipse cx="501.62" cy="50.96" rx="0.85" ry="1.05" fill="#111"/>
<ellipse cx="567.27" cy="50.96" rx="0.85" ry="1.05" fill="#111"/>
<ellipse cx="567.27" cy="60.89" rx="0.85" ry="1.05" fill="#111"/>
<ellipse cx="501.62" cy="80.74" rx="0.85" ry="1.05" fill="#111"/>
<ellipse cx="523.50" cy="80.74" rx="0.85" ry="1.05" fill="#111"/>
<ellipse cx="545.38" cy="80.74" rx="0.85" ry="1.05" fill="#111"/>
<ellipse cx="479.73" cy="90.67" rx="0.85" ry="1.05" fill="#111"/>
<ellipse cx="501.62" cy="90.67" rx="0.85" ry="1.05" fill="#111"/>
<ellipse cx="523.50" cy="90.67" rx="0.85" ry="1.05" fill="#111"/>
<ellipse cx="479.73" cy="100.59" rx="0.85" ry="1.05" fill="#111"/>
<ellipse cx="501.62" cy="100.59" rx="0.85" ry="1.05" fill="#111"/>
<ellipse cx="523.50" cy="100.59" rx="0.85" ry="1.05" fill="#111"/>
<ellipse cx="545.38" cy="100.59" rx="0.85" ry="1.05" fill="#111"/>
<ellipse cx="567.27" cy="100.59" rx="0.85" ry="1.05" fill="#111"/>
<ellipse cx="479.73" cy="110.52" rx="0.85" ry="1.05" fill="#111"/>
<ellipse cx="501.62" cy="110.52" rx="0.85" ry="1.05" fill="#111"/>
<ellipse cx="523.50" cy="110.52" rx="0.85" ry="1.05" fill="#111"/>
<ellipse cx="545.38" cy="110.52" rx="0.85" ry="1.05" fill="#111"/>
<ellipse cx="567.27" cy="110.52" rx="0.85" ry="1.05" fill="#111"/>
<ellipse cx="479.73" cy="120.45" rx="0.85" ry="1.05" fill="#111"/>
<ellipse cx="501.62" cy="120.45" rx="0.85" ry="1.05" fill="#111"/>
<ellipse cx="523.50" cy="120.45" rx="0.85" ry="1.05" fill="#111"/>
<ellipse cx="545.38" cy="120.45" rx="0.85" ry="1.05" fill="#111"/>
<ellipse cx="567.27" cy="120.45" rx="0.85" ry="1.05" fill="#111"/>
<ellipse cx="479.73" cy="130.37" rx="0.85" ry="1.05" fill="#111"/>
<ellipse cx="501.62" cy="130.37" rx="0.85" ry="1.05" fill="#111"/>
<ellipse cx="523.50" cy="130.37" rx="0.85" ry="1.05" fill="#111"/>
<ellipse cx="479.73" cy="140.30" rx="0.85" ry="1.05" fill="#111"/>
<ellipse cx="501.62" cy="140.30" rx="0.85" ry="1.05" fill="#111"/>
<ellipse cx="567.27" cy="140.30" rx="0.85" ry="1.05" fill="#111"/>
<ellipse cx="523.50" cy="150.23" rx="0.85" ry="1.05" fill="#111"/>
<ellipse cx="545.38" cy="150.23" rx="0.85" ry="1.05" fill="#111"/>
<ellipse cx="567.27" cy="150.23" rx="0.85" ry="1.05" fill="#111"/>
<ellipse cx="479.73" cy="160.15" rx="0.85" ry="1.05" fill="#111"/>
<ellipse cx="501.62" cy="160.15" rx="0.85" ry="1.05" fill="#111"/>
<ellipse cx="523.50" cy="160.15" rx="0.85" ry="1.05" fill="#111"/>
<ellipse cx="567.27" cy="160.15" rx="0.85" ry="1.05" fill="#111"/>
<ellipse cx="479.73" cy="189.93" rx="0.75" ry="1.05" fill="#8c8c8c"/>
<ellipse cx="501.62" cy="189.93" rx="0.85" ry="1.05" fill="#111"/>
<ellipse cx="545.38" cy="189.93" rx="0.85" ry="1.05" fill="#111"/>
<ellipse cx="479.73" cy="199.86" rx="0.85" ry="1.05" fill="#111"/>
<ellipse cx="501.62" cy="199.86" rx="0.85" ry="1.05" fill="#111"/>
<ellipse cx="523.50" cy="199.86" rx="0.85" ry="1.05" fill="#111"/>
<ellipse cx="545.38" cy="199.86" rx="0.85" ry="1.05" fill="#111"/>
<ellipse cx="479.73" cy="209.79" rx="0.85" ry="1.05" fill="#111"/>
<ellipse cx="501.62" cy="209.79" rx="0.85" ry="1.05" fill="#111"/>
<ellipse cx="523.50" cy="209.79" rx="0.85" ry="1.05" fill="#111"/>
<ellipse cx="479.73" cy="219.71" rx="0.85" ry="1.05" fill="#111"/>
<ellipse cx="501.62" cy="219.71" rx="0.85" ry="1.05" fill="#111"/>
<ellipse cx="523.50" cy="219.71" rx="0.85" ry="1.05" fill="#111"/>
<ellipse cx="545.38" cy="219.71" rx="0.85" ry="1.05" fill="#111"/>
<ellipse cx="567.27" cy="219.71" rx="0.85" ry="1.05" fill="#111"/>
<ellipse cx="479.73" cy="229.64" rx="0.85" ry="1.05" fill="#111"/>
<ellipse cx="501.62" cy="229.64" rx="0.85" ry="1.05" fill="#111"/>
<ellipse cx="523.50" cy="229.64" rx="0.85" ry="1.05" fill="#111"/>
<ellipse cx="567.27" cy="229.64" rx="0.85" ry="1.05" fill="#111"/>
<ellipse cx="479.73" cy="239.56" rx="0.85" ry="1.05" fill="#111"/>
<ellipse cx="501.62" cy="239.56" rx="0.85" ry="1.05" fill="#111"/>
<ellipse cx="523.50" cy="239.56" rx="0.85" ry="1.05" fill="#111"/>
<ellipse cx="567.27" cy="239.56" rx="0.85" ry="1.05" fill="#111"/>
<ellipse cx="479.73" cy="249.49" rx="0.85" ry="1.05" fill="#111"/>
<ellipse cx="501.62" cy="249.49" rx="0.85" ry="1.05" fill="#111"/>
<ellipse cx="523.50" cy="249.49" rx="0.85" ry="1.05" fill="#111"/>
<ellipse cx="479.73" cy="259.42" rx="0.85" ry="1.05" fill="#111"/>
<ellipse cx="501.62" cy="259.42" rx="0.85" ry="1.05" fill="#111"/>
<ellipse cx="523.50" cy="259.42" rx="0.85" ry="1.05" fill="#111"/>
<ellipse cx="479.73" cy="269.34" rx="0.85" ry="1.05" fill="#111"/>
<ellipse cx="501.62" cy="269.34" rx="0.85" ry="1.05" fill="#111"/>
<ellipse cx="523.50" cy="269.34" rx="0.85" ry="1.05" fill="#111"/>
<ellipse cx="545.38" cy="269.34" rx="0.85" ry="1.05" fill="#111"/>
<rect x="466.60" y="5.30" width="113.80" height="270.00" fill="none" stroke="#9a9a9a" stroke-width="0.75"/>
<line x1="479.73" y1="275.30" x2="479.73" y2="276.90" stroke="#555" stroke-width="0.5"/>
<text transform="translate(482.13,277.70) rotate(-90) scale(0.830,1)" text-anchor="end" font-size="6.84" fill="#383838" stroke="#383838" stroke-width="0">HOMA-IR</text>
<line x1="501.62" y1="275.30" x2="501.62" y2="276.90" stroke="#555" stroke-width="0.5"/>
<text transform="translate(504.02,277.70) rotate(-90) scale(0.830,1)" text-anchor="end" font-size="6.84" fill="#383838" stroke="#383838" stroke-width="0">Insulin</text>
<line x1="523.50" y1="275.30" x2="523.50" y2="276.90" stroke="#555" stroke-width="0.5"/>
<text transform="translate(525.90,277.70) rotate(-90) scale(0.830,1)" text-anchor="end" font-size="6.84" fill="#383838" stroke="#383838" stroke-width="0">C-peptide</text>
<line x1="545.38" y1="275.30" x2="545.38" y2="276.90" stroke="#555" stroke-width="0.5"/>
<text transform="translate(547.78,277.70) rotate(-90) scale(0.830,1)" text-anchor="end" font-size="6.84" fill="#383838" stroke="#383838" stroke-width="0">Glucose</text>
<line x1="567.27" y1="275.30" x2="567.27" y2="276.90" stroke="#555" stroke-width="0.5"/>
<text transform="translate(569.67,277.70) rotate(-90) scale(0.830,1)" text-anchor="end" font-size="6.84" fill="#383838" stroke="#383838" stroke-width="0">HbA1c</text>
<rect x="585.58" y="6.29" width="22.42" height="10.53" fill="#e8defe"/>
<rect x="607.40" y="6.29" width="21.82" height="10.53" fill="#f4f0fe"/>
<rect x="585.58" y="16.22" width="22.42" height="10.53" fill="#f4f0fe"/>
<rect x="607.40" y="16.22" width="21.82" height="10.53" fill="#e8defe"/>
<rect x="585.58" y="26.15" width="22.42" height="10.53" fill="#e8defe"/>
<rect x="607.40" y="26.15" width="21.82" height="10.53" fill="#e8defe"/>
<rect x="585.58" y="36.07" width="22.42" height="10.53" fill="#f4f0fe"/>
<rect x="607.40" y="36.07" width="21.82" height="10.53" fill="#e8defe"/>
<rect x="585.58" y="46.00" width="22.42" height="10.53" fill="#faf6e8"/>
<rect x="607.40" y="46.00" width="21.82" height="10.53" fill="#e8defe"/>
<rect x="585.58" y="55.92" width="22.42" height="10.53" fill="#faf9ff"/>
<rect x="607.40" y="55.92" width="21.82" height="10.53" fill="#ffffff"/>
<rect x="585.58" y="65.85" width="22.42" height="10.53" fill="#fefcf8"/>
<rect x="607.40" y="65.85" width="21.82" height="10.53" fill="#f6eac9"/>
<rect x="585.58" y="75.78" width="22.42" height="10.53" fill="#ffffff"/>
<rect x="607.40" y="75.78" width="21.82" height="10.53" fill="#f2ddaa"/>
<rect x="585.58" y="85.70" width="22.42" height="10.53" fill="#ffffff"/>
<rect x="607.40" y="85.70" width="21.82" height="10.53" fill="#fcfaf4"/>
<rect x="585.58" y="95.63" width="22.42" height="10.53" fill="#fcfbff"/>
<rect x="607.40" y="95.63" width="21.82" height="10.53" fill="#ffffff"/>
<rect x="585.58" y="105.56" width="22.42" height="10.53" fill="#efeafe"/>
<rect x="607.40" y="105.56" width="21.82" height="10.53" fill="#faf9ff"/>
<rect x="585.58" y="115.48" width="22.42" height="10.53" fill="#fcfaf4"/>
<rect x="607.40" y="115.48" width="21.82" height="10.53" fill="#f6eac9"/>
<rect x="585.58" y="125.41" width="22.42" height="10.53" fill="#f8f0d8"/>
<rect x="607.40" y="125.41" width="21.82" height="10.53" fill="#fcf9ef"/>
<rect x="585.58" y="135.34" width="22.42" height="10.53" fill="#faf9ff"/>
<rect x="607.40" y="135.34" width="21.82" height="10.53" fill="#f4f0fe"/>
<rect x="585.58" y="145.26" width="22.42" height="10.53" fill="#efeafe"/>
<rect x="607.40" y="145.26" width="21.82" height="10.53" fill="#f4f0fe"/>
<rect x="585.58" y="155.19" width="22.42" height="10.53" fill="#d6c4fc"/>
<rect x="607.40" y="155.19" width="21.82" height="10.53" fill="#f4f0fe"/>
<rect x="585.58" y="165.12" width="22.42" height="10.53" fill="#fcfaf4"/>
<rect x="607.40" y="165.12" width="21.82" height="10.53" fill="#ffffff"/>
<rect x="585.58" y="175.04" width="22.42" height="10.53" fill="#ffffff"/>
<rect x="607.40" y="175.04" width="21.82" height="10.53" fill="#faf9ff"/>
<rect x="585.58" y="184.97" width="22.42" height="10.53" fill="#f8f0d8"/>
<rect x="607.40" y="184.97" width="21.82" height="10.53" fill="#fcf9ef"/>
<rect x="585.58" y="194.90" width="22.42" height="10.53" fill="#f2ddaa"/>
<rect x="607.40" y="194.90" width="21.82" height="10.53" fill="#faf6e8"/>
<rect x="585.58" y="204.82" width="22.42" height="10.53" fill="#ffffff"/>
<rect x="607.40" y="204.82" width="21.82" height="10.53" fill="#ffffff"/>
<rect x="585.58" y="214.75" width="22.42" height="10.53" fill="#fefdfa"/>
<rect x="607.40" y="214.75" width="21.82" height="10.53" fill="#faf6e8"/>
<rect x="585.58" y="224.67" width="22.42" height="10.53" fill="#faf6e8"/>
<rect x="607.40" y="224.67" width="21.82" height="10.53" fill="#faf6e8"/>
<rect x="585.58" y="234.60" width="22.42" height="10.53" fill="#fcfaf4"/>
<rect x="607.40" y="234.60" width="21.82" height="10.53" fill="#ffffff"/>
<rect x="585.58" y="244.53" width="22.42" height="10.53" fill="#faf6e8"/>
<rect x="607.40" y="244.53" width="21.82" height="10.53" fill="#f8f0d8"/>
<rect x="585.58" y="254.45" width="22.42" height="10.53" fill="#fcf9ef"/>
<rect x="607.40" y="254.45" width="21.82" height="10.53" fill="#fcfaf4"/>
<rect x="585.58" y="264.38" width="22.42" height="9.93" fill="#fefcf8"/>
<rect x="607.40" y="264.38" width="21.82" height="9.93" fill="#f4e4ba"/>
<ellipse cx="596.49" cy="11.26" rx="0.85" ry="1.05" fill="#111"/>
<ellipse cx="618.31" cy="11.26" rx="0.85" ry="1.05" fill="#111"/>
<ellipse cx="596.49" cy="21.18" rx="0.85" ry="1.05" fill="#111"/>
<ellipse cx="618.31" cy="21.18" rx="0.85" ry="1.05" fill="#111"/>
<ellipse cx="596.49" cy="31.11" rx="0.85" ry="1.05" fill="#111"/>
<ellipse cx="618.31" cy="31.11" rx="0.85" ry="1.05" fill="#111"/>
<ellipse cx="596.49" cy="41.04" rx="0.85" ry="1.05" fill="#111"/>
<ellipse cx="618.31" cy="41.04" rx="0.85" ry="1.05" fill="#111"/>
<ellipse cx="596.49" cy="50.96" rx="0.85" ry="1.05" fill="#111"/>
<ellipse cx="618.31" cy="50.96" rx="0.85" ry="1.05" fill="#111"/>
<ellipse cx="596.49" cy="70.81" rx="0.75" ry="1.05" fill="#8c8c8c"/>
<ellipse cx="618.31" cy="70.81" rx="0.85" ry="1.05" fill="#111"/>
<ellipse cx="618.31" cy="80.74" rx="0.85" ry="1.05" fill="#111"/>
<ellipse cx="618.31" cy="90.67" rx="0.75" ry="1.05" fill="#8c8c8c"/>
<ellipse cx="596.49" cy="110.52" rx="0.85" ry="1.05" fill="#111"/>
<ellipse cx="596.49" cy="120.45" rx="0.85" ry="1.05" fill="#111"/>
<ellipse cx="618.31" cy="120.45" rx="0.85" ry="1.05" fill="#111"/>
<ellipse cx="596.49" cy="130.37" rx="0.85" ry="1.05" fill="#111"/>
<ellipse cx="618.31" cy="130.37" rx="0.85" ry="1.05" fill="#111"/>
<ellipse cx="618.31" cy="140.30" rx="0.85" ry="1.05" fill="#111"/>
<ellipse cx="596.49" cy="150.23" rx="0.85" ry="1.05" fill="#111"/>
<ellipse cx="618.31" cy="150.23" rx="0.85" ry="1.05" fill="#111"/>
<ellipse cx="596.49" cy="160.15" rx="0.85" ry="1.05" fill="#111"/>
<ellipse cx="618.31" cy="160.15" rx="0.85" ry="1.05" fill="#111"/>
<ellipse cx="596.49" cy="170.08" rx="0.85" ry="1.05" fill="#111"/>
<ellipse cx="596.49" cy="189.93" rx="0.85" ry="1.05" fill="#111"/>
<ellipse cx="618.31" cy="189.93" rx="0.85" ry="1.05" fill="#111"/>
<ellipse cx="596.49" cy="199.86" rx="0.85" ry="1.05" fill="#111"/>
<ellipse cx="618.31" cy="199.86" rx="0.85" ry="1.05" fill="#111"/>
<ellipse cx="596.49" cy="209.79" rx="0.75" ry="1.05" fill="#8c8c8c"/>
<ellipse cx="596.49" cy="219.71" rx="0.85" ry="1.05" fill="#111"/>
<ellipse cx="618.31" cy="219.71" rx="0.85" ry="1.05" fill="#111"/>
<ellipse cx="596.49" cy="229.64" rx="0.85" ry="1.05" fill="#111"/>
<ellipse cx="618.31" cy="229.64" rx="0.85" ry="1.05" fill="#111"/>
<ellipse cx="596.49" cy="239.56" rx="0.85" ry="1.05" fill="#111"/>
<ellipse cx="596.49" cy="249.49" rx="0.85" ry="1.05" fill="#111"/>
<ellipse cx="618.31" cy="249.49" rx="0.85" ry="1.05" fill="#111"/>
<ellipse cx="596.49" cy="259.42" rx="0.85" ry="1.05" fill="#111"/>
<ellipse cx="618.31" cy="259.42" rx="0.85" ry="1.05" fill="#111"/>
<ellipse cx="618.31" cy="269.34" rx="0.85" ry="1.05" fill="#111"/>
<rect x="583.40" y="5.30" width="48.00" height="270.00" fill="none" stroke="#9a9a9a" stroke-width="0.75"/>
<line x1="596.49" y1="275.30" x2="596.49" y2="276.90" stroke="#555" stroke-width="0.5"/>
<text transform="translate(598.89,277.70) rotate(-90) scale(0.830,1)" text-anchor="end" font-size="6.84" fill="#383838" stroke="#383838" stroke-width="0">Glucagon</text>
<line x1="618.31" y1="275.30" x2="618.31" y2="276.90" stroke="#555" stroke-width="0.5"/>
<text transform="translate(620.71,277.70) rotate(-90) scale(0.830,1)" text-anchor="end" font-size="6.84" fill="#383838" stroke="#383838" stroke-width="0">Total GLP-1</text>
<rect x="636.67" y="6.29" width="22.33" height="10.53" fill="#ffffff"/>
<rect x="658.40" y="6.29" width="21.73" height="10.53" fill="#f4f0fe"/>
<rect x="636.67" y="16.22" width="22.33" height="10.53" fill="#fcfaf4"/>
<rect x="658.40" y="16.22" width="21.73" height="10.53" fill="#fcfbff"/>
<rect x="636.67" y="26.15" width="22.33" height="10.53" fill="#ffffff"/>
<rect x="658.40" y="26.15" width="21.73" height="10.53" fill="#f4f0fe"/>
<rect x="636.67" y="36.07" width="22.33" height="10.53" fill="#fcfaf4"/>
<rect x="658.40" y="36.07" width="21.73" height="10.53" fill="#ffffff"/>
<rect x="636.67" y="46.00" width="22.33" height="10.53" fill="#ffffff"/>
<rect x="658.40" y="46.00" width="21.73" height="10.53" fill="#ffffff"/>
<rect x="636.67" y="55.92" width="22.33" height="10.53" fill="#faf9ff"/>
<rect x="658.40" y="55.92" width="21.73" height="10.53" fill="#fcfaf4"/>
<rect x="636.67" y="65.85" width="22.33" height="10.53" fill="#fdfdff"/>
<rect x="658.40" y="65.85" width="21.73" height="10.53" fill="#fefcf8"/>
<rect x="636.67" y="75.78" width="22.33" height="10.53" fill="#fefdfa"/>
<rect x="658.40" y="75.78" width="21.73" height="10.53" fill="#fefdfa"/>
<rect x="636.67" y="85.70" width="22.33" height="10.53" fill="#faf6e8"/>
<rect x="658.40" y="85.70" width="21.73" height="10.53" fill="#faf6e8"/>
<rect x="636.67" y="95.63" width="22.33" height="10.53" fill="#fcf9ef"/>
<rect x="658.40" y="95.63" width="21.73" height="10.53" fill="#fcf9ef"/>
<rect x="636.67" y="105.56" width="22.33" height="10.53" fill="#faf6e8"/>
<rect x="658.40" y="105.56" width="21.73" height="10.53" fill="#f8f0d8"/>
<rect x="636.67" y="115.48" width="22.33" height="10.53" fill="#ffffff"/>
<rect x="658.40" y="115.48" width="21.73" height="10.53" fill="#fcfaf4"/>
<rect x="636.67" y="125.41" width="22.33" height="10.53" fill="#fcfaf4"/>
<rect x="658.40" y="125.41" width="21.73" height="10.53" fill="#fcf9ef"/>
<rect x="636.67" y="135.34" width="22.33" height="10.53" fill="#fcfaf4"/>
<rect x="658.40" y="135.34" width="21.73" height="10.53" fill="#ffffff"/>
<rect x="636.67" y="145.26" width="22.33" height="10.53" fill="#ffffff"/>
<rect x="658.40" y="145.26" width="21.73" height="10.53" fill="#f4f0fe"/>
<rect x="636.67" y="155.19" width="22.33" height="10.53" fill="#fefcf8"/>
<rect x="658.40" y="155.19" width="21.73" height="10.53" fill="#ffffff"/>
<rect x="636.67" y="165.12" width="22.33" height="10.53" fill="#fefcf8"/>
<rect x="658.40" y="165.12" width="21.73" height="10.53" fill="#faf6e8"/>
<rect x="636.67" y="175.04" width="22.33" height="10.53" fill="#ffffff"/>
<rect x="658.40" y="175.04" width="21.73" height="10.53" fill="#fcfaf4"/>
<rect x="636.67" y="184.97" width="22.33" height="10.53" fill="#fefdfa"/>
<rect x="658.40" y="184.97" width="21.73" height="10.53" fill="#faf6e8"/>
<rect x="636.67" y="194.90" width="22.33" height="10.53" fill="#ffffff"/>
<rect x="658.40" y="194.90" width="21.73" height="10.53" fill="#fcfaf4"/>
<rect x="636.67" y="204.82" width="22.33" height="10.53" fill="#ffffff"/>
<rect x="658.40" y="204.82" width="21.73" height="10.53" fill="#fcfaf4"/>
<rect x="636.67" y="214.75" width="22.33" height="10.53" fill="#fefdfa"/>
<rect x="658.40" y="214.75" width="21.73" height="10.53" fill="#faf6e8"/>
<rect x="636.67" y="224.67" width="22.33" height="10.53" fill="#ffffff"/>
<rect x="658.40" y="224.67" width="21.73" height="10.53" fill="#f6eac9"/>
<rect x="636.67" y="234.60" width="22.33" height="10.53" fill="#faf6e8"/>
<rect x="658.40" y="234.60" width="21.73" height="10.53" fill="#faf6e8"/>
<rect x="636.67" y="244.53" width="22.33" height="10.53" fill="#fcfaf4"/>
<rect x="658.40" y="244.53" width="21.73" height="10.53" fill="#fcf9ef"/>
<rect x="636.67" y="254.45" width="22.33" height="10.53" fill="#fcfaf4"/>
<rect x="658.40" y="254.45" width="21.73" height="10.53" fill="#fcf9ef"/>
<rect x="636.67" y="264.38" width="22.33" height="9.93" fill="#f7f4fe"/>
<rect x="658.40" y="264.38" width="21.73" height="9.93" fill="#f4e4ba"/>
<ellipse cx="669.26" cy="11.26" rx="0.85" ry="1.05" fill="#111"/>
<ellipse cx="647.54" cy="21.18" rx="0.85" ry="1.05" fill="#111"/>
<ellipse cx="669.26" cy="31.11" rx="0.85" ry="1.05" fill="#111"/>
<ellipse cx="647.54" cy="41.04" rx="0.85" ry="1.05" fill="#111"/>
<ellipse cx="669.26" cy="60.89" rx="0.85" ry="1.05" fill="#111"/>
<ellipse cx="669.26" cy="70.81" rx="0.75" ry="1.05" fill="#8c8c8c"/>
<ellipse cx="647.54" cy="90.67" rx="0.85" ry="1.05" fill="#111"/>
<ellipse cx="669.26" cy="90.67" rx="0.85" ry="1.05" fill="#111"/>
<ellipse cx="647.54" cy="100.59" rx="0.85" ry="1.05" fill="#111"/>
<ellipse cx="669.26" cy="100.59" rx="0.85" ry="1.05" fill="#111"/>
<ellipse cx="647.54" cy="110.52" rx="0.85" ry="1.05" fill="#111"/>
<ellipse cx="669.26" cy="110.52" rx="0.85" ry="1.05" fill="#111"/>
<ellipse cx="669.26" cy="120.45" rx="0.85" ry="1.05" fill="#111"/>
<ellipse cx="647.54" cy="130.37" rx="0.85" ry="1.05" fill="#111"/>
<ellipse cx="669.26" cy="130.37" rx="0.85" ry="1.05" fill="#111"/>
<ellipse cx="647.54" cy="140.30" rx="0.85" ry="1.05" fill="#111"/>
<ellipse cx="669.26" cy="150.23" rx="0.85" ry="1.05" fill="#111"/>
<ellipse cx="647.54" cy="160.15" rx="0.85" ry="1.05" fill="#111"/>
<ellipse cx="647.54" cy="170.08" rx="0.85" ry="1.05" fill="#111"/>
<ellipse cx="669.26" cy="170.08" rx="0.85" ry="1.05" fill="#111"/>
<ellipse cx="669.26" cy="180.01" rx="0.85" ry="1.05" fill="#111"/>
<ellipse cx="647.54" cy="189.93" rx="0.85" ry="1.05" fill="#111"/>
<ellipse cx="669.26" cy="189.93" rx="0.85" ry="1.05" fill="#111"/>
<ellipse cx="669.26" cy="199.86" rx="0.85" ry="1.05" fill="#111"/>
<ellipse cx="669.26" cy="209.79" rx="0.85" ry="1.05" fill="#111"/>
<ellipse cx="647.54" cy="219.71" rx="0.75" ry="1.05" fill="#8c8c8c"/>
<ellipse cx="669.26" cy="219.71" rx="0.85" ry="1.05" fill="#111"/>
<ellipse cx="669.26" cy="229.64" rx="0.85" ry="1.05" fill="#111"/>
<ellipse cx="647.54" cy="239.56" rx="0.85" ry="1.05" fill="#111"/>
<ellipse cx="669.26" cy="239.56" rx="0.85" ry="1.05" fill="#111"/>
<ellipse cx="647.54" cy="249.49" rx="0.85" ry="1.05" fill="#111"/>
<ellipse cx="669.26" cy="249.49" rx="0.85" ry="1.05" fill="#111"/>
<ellipse cx="647.54" cy="259.42" rx="0.85" ry="1.05" fill="#111"/>
<ellipse cx="669.26" cy="259.42" rx="0.85" ry="1.05" fill="#111"/>
<ellipse cx="669.26" cy="269.34" rx="0.85" ry="1.05" fill="#111"/>
<rect x="634.50" y="5.30" width="47.80" height="270.00" fill="none" stroke="#9a9a9a" stroke-width="0.75"/>
<line x1="647.54" y1="275.30" x2="647.54" y2="276.90" stroke="#555" stroke-width="0.5"/>
<text transform="translate(649.94,277.70) rotate(-90) scale(0.830,1)" text-anchor="end" font-size="6.84" fill="#383838" stroke="#383838" stroke-width="0">SBP SDS</text>
<line x1="669.26" y1="275.30" x2="669.26" y2="276.90" stroke="#555" stroke-width="0.5"/>
<text transform="translate(671.66,277.70) rotate(-90) scale(0.830,1)" text-anchor="end" font-size="6.84" fill="#383838" stroke="#383838" stroke-width="0">DBP SDS</text>
<text transform="translate(76.3,347.6) scale(0.830,1)" font-size="6.84" fill="#000" stroke="#000" stroke-width="0">OR</text>
<defs>
<linearGradient id="gor" x1="0" x2="1" y1="0" y2="0">
<stop offset="0" stop-color="#ECE6FD"/><stop offset="0.06" stop-color="#F7F5FE"/><stop offset="0.1" stop-color="#FFFFFF"/>
<stop offset="0.35" stop-color="#F7EBCF"/><stop offset="0.6" stop-color="#F0D59E"/><stop offset="0.85" stop-color="#EBBB62"/><stop offset="1" stop-color="#E9A32E"/>
</linearGradient>
<linearGradient id="gbeta" x1="0" x2="1" y1="0" y2="0">
<stop offset="0" stop-color="#A374FA"/><stop offset="0.18" stop-color="#D0BCFD"/><stop offset="0.36" stop-color="#FFFFFF"/>
<stop offset="0.6" stop-color="#F5E6C2"/><stop offset="0.8" stop-color="#EFCB80"/><stop offset="1" stop-color="#E9A32E"/>
</linearGradient>
</defs>
<rect x="87.7" y="337" width="41.6" height="8.1" fill="url(#gor)"/>
<line x1="91.5" y1="337" x2="91.5" y2="338.6" stroke="#fff" stroke-width="0.4"/><line x1="91.5" y1="343.5" x2="91.5" y2="345.1" stroke="#fff" stroke-width="0.4"/>
<text transform="translate(91.5,351.8) scale(0.830,1)" text-anchor="middle" font-size="6.24" fill="#383838" stroke="#383838" stroke-width="0">1</text>
<line x1="102" y1="337" x2="102" y2="338.6" stroke="#fff" stroke-width="0.4"/><line x1="102" y1="343.5" x2="102" y2="345.1" stroke="#fff" stroke-width="0.4"/>
<text transform="translate(102,351.8) scale(0.830,1)" text-anchor="middle" font-size="6.24" fill="#383838" stroke="#383838" stroke-width="0">2</text>
<line x1="112.5" y1="337" x2="112.5" y2="338.6" stroke="#fff" stroke-width="0.4"/><line x1="112.5" y1="343.5" x2="112.5" y2="345.1" stroke="#fff" stroke-width="0.4"/>
<text transform="translate(112.5,351.8) scale(0.830,1)" text-anchor="middle" font-size="6.24" fill="#383838" stroke="#383838" stroke-width="0">3</text>
<line x1="122.7" y1="337" x2="122.7" y2="338.6" stroke="#fff" stroke-width="0.4"/><line x1="122.7" y1="343.5" x2="122.7" y2="345.1" stroke="#fff" stroke-width="0.4"/>
<text transform="translate(122.7,351.8) scale(0.830,1)" text-anchor="middle" font-size="6.24" fill="#383838" stroke="#383838" stroke-width="0">4</text>
<text transform="translate(351.1,343.9) scale(0.830,1)" font-size="6.84" fill="#000" stroke="#000" stroke-width="0">P-value</text>
<circle cx="377.4" cy="341.2" r="0.95" fill="none" stroke="#6a6a6a" stroke-width="0.55"/>
<text transform="translate(384.1,343.6) scale(0.830,1)" font-size="6.36" fill="#383838" stroke="#383838" stroke-width="0">P &lt; 0.05</text>
<circle cx="410.4" cy="341.2" r="1.0" fill="#111"/>
<text transform="translate(417.8,343.6) scale(0.830,1)" font-size="6.36" fill="#383838" stroke="#383838" stroke-width="0">P &lt; 5% FDR</text>
<text transform="translate(457.7,347.5) scale(0.830,1)" font-size="6.84" fill="#000" stroke="#000" stroke-width="0">Beta</text>
<rect x="471.9" y="337" width="42.1" height="8.1" fill="url(#gbeta)"/>
<line x1="478.4" y1="337" x2="478.4" y2="338.6" stroke="#fff" stroke-width="0.4"/><line x1="478.4" y1="343.5" x2="478.4" y2="345.1" stroke="#fff" stroke-width="0.4"/>
<text transform="translate(478.4,351.8) scale(0.830,1)" text-anchor="middle" font-size="6.24" fill="#383838" stroke="#383838" stroke-width="0">-0.2</text>
<line x1="487.4" y1="337" x2="487.4" y2="338.6" stroke="#fff" stroke-width="0.4"/><line x1="487.4" y1="343.5" x2="487.4" y2="345.1" stroke="#fff" stroke-width="0.4"/>
<text transform="translate(487.4,351.8) scale(0.830,1)" text-anchor="middle" font-size="6.24" fill="#383838" stroke="#383838" stroke-width="0">0</text>
<line x1="496.1" y1="337" x2="496.1" y2="338.6" stroke="#fff" stroke-width="0.4"/><line x1="496.1" y1="343.5" x2="496.1" y2="345.1" stroke="#fff" stroke-width="0.4"/>
<text transform="translate(496.1,351.8) scale(0.830,1)" text-anchor="middle" font-size="6.24" fill="#383838" stroke="#383838" stroke-width="0">0.2</text>
<line x1="504.2" y1="337" x2="504.2" y2="338.6" stroke="#fff" stroke-width="0.4"/><line x1="504.2" y1="343.5" x2="504.2" y2="345.1" stroke="#fff" stroke-width="0.4"/>
<text transform="translate(504.2,351.8) scale(0.830,1)" text-anchor="middle" font-size="6.24" fill="#383838" stroke="#383838" stroke-width="0">0.4</text>
<text transform="translate(103.95,373.7) scale(0.830,1)" text-anchor="middle" font-size="6.72" fill="#1a1a1a" stroke="#1a1a1a" stroke-width="0">ALT</text>
<line x1="47.35" y1="376.5" x2="47.35" y2="528.2" stroke="#ebebeb" stroke-width="0.5"/>
<line x1="105.45" y1="376.5" x2="105.45" y2="528.2" stroke="#ebebeb" stroke-width="0.5"/>
<line x1="134.50" y1="376.5" x2="134.50" y2="528.2" stroke="#ebebeb" stroke-width="0.5"/>
<line x1="163.55" y1="376.5" x2="163.55" y2="528.2" stroke="#ebebeb" stroke-width="0.5"/>
<line x1="76.40" y1="376.5" x2="76.40" y2="528.2" stroke="#666" stroke-width="0.7"/>
<rect x="40.50" y="376.5" width="126.90" height="151.70" fill="none" stroke="#9a9a9a" stroke-width="0.75"/>
<line x1="47.35" y1="528.2" x2="47.35" y2="529.8000000000001" stroke="#555" stroke-width="0.5"/>
<text transform="translate(47.35,534.8) scale(0.830,1)" text-anchor="middle" font-size="6.84" fill="#383838" stroke="#383838" stroke-width="0">-0.25</text>
<line x1="76.40" y1="528.2" x2="76.40" y2="529.8000000000001" stroke="#555" stroke-width="0.5"/>
<text transform="translate(76.40,534.8) scale(0.830,1)" text-anchor="middle" font-size="6.84" fill="#383838" stroke="#383838" stroke-width="0">0.00</text>
<line x1="105.45" y1="528.2" x2="105.45" y2="529.8000000000001" stroke="#555" stroke-width="0.5"/>
<text transform="translate(105.45,534.8) scale(0.830,1)" text-anchor="middle" font-size="6.84" fill="#383838" stroke="#383838" stroke-width="0">0.25</text>
<line x1="134.50" y1="528.2" x2="134.50" y2="529.8000000000001" stroke="#555" stroke-width="0.5"/>
<text transform="translate(134.50,534.8) scale(0.830,1)" text-anchor="middle" font-size="6.84" fill="#383838" stroke="#383838" stroke-width="0">0.50</text>
<line x1="163.55" y1="528.2" x2="163.55" y2="529.8000000000001" stroke="#555" stroke-width="0.5"/>
<text transform="translate(163.55,534.8) scale(0.830,1)" text-anchor="middle" font-size="6.84" fill="#383838" stroke="#383838" stroke-width="0">0.75</text>
<line x1="115.09" y1="393.6" x2="125.55" y2="393.6" stroke="#8A5A33" stroke-width="0.8"/>
<circle cx="120.09" cy="393.6" r="2.3" fill="#5A3412"/>
<line x1="152.51" y1="393.6" x2="164.36" y2="393.6" stroke="#A9CBEA" stroke-width="0.8"/>
<circle cx="158.55" cy="393.6" r="2.3" fill="#9DC3E6"/>
<line x1="90.93" y1="422.8" x2="102.55" y2="422.8" stroke="#8A5A33" stroke-width="0.8"/>
<circle cx="96.50" cy="422.8" r="2.3" fill="#5A3412"/>
<line x1="131.59" y1="422.8" x2="140.08" y2="422.8" stroke="#A9CBEA" stroke-width="0.8"/>
<circle cx="136.82" cy="422.8" r="2.3" fill="#9DC3E6"/>
<line x1="68.03" y1="452.1" x2="82.67" y2="452.1" stroke="#8A5A33" stroke-width="0.8"/>
<circle cx="75.24" cy="452.1" r="1.2" fill="#5A3412"/>
<line x1="118.81" y1="452.1" x2="133.92" y2="452.1" stroke="#A9CBEA" stroke-width="0.8"/>
<circle cx="126.37" cy="452.1" r="2.3" fill="#9DC3E6"/>
<line x1="56.07" y1="481.3" x2="68.03" y2="481.3" stroke="#8A5A33" stroke-width="0.8"/>
<circle cx="62.22" cy="481.3" r="2.3" fill="#5A3412"/>
<line x1="93.02" y1="481.3" x2="102.20" y2="481.3" stroke="#A9CBEA" stroke-width="0.8"/>
<circle cx="97.32" cy="481.3" r="2.3" fill="#9DC3E6"/>
<line x1="90.93" y1="510.5" x2="103.71" y2="510.5" stroke="#8A5A33" stroke-width="0.8"/>
<circle cx="97.32" cy="510.5" r="2.3" fill="#5A3412"/>
<line x1="127.30" y1="510.5" x2="135.78" y2="510.5" stroke="#A9CBEA" stroke-width="0.8"/>
<circle cx="131.48" cy="510.5" r="2.3" fill="#9DC3E6"/>
<text transform="translate(233.95,373.7) scale(0.830,1)" text-anchor="middle" font-size="6.72" fill="#1a1a1a" stroke="#1a1a1a" stroke-width="0">AST</text>
<line x1="176.95" y1="376.5" x2="176.95" y2="528.2" stroke="#ebebeb" stroke-width="0.5"/>
<line x1="235.05" y1="376.5" x2="235.05" y2="528.2" stroke="#ebebeb" stroke-width="0.5"/>
<line x1="264.10" y1="376.5" x2="264.10" y2="528.2" stroke="#ebebeb" stroke-width="0.5"/>
<line x1="293.15" y1="376.5" x2="293.15" y2="528.2" stroke="#ebebeb" stroke-width="0.5"/>
<line x1="206.00" y1="376.5" x2="206.00" y2="528.2" stroke="#666" stroke-width="0.7"/>
<rect x="170.50" y="376.5" width="126.90" height="151.70" fill="none" stroke="#9a9a9a" stroke-width="0.75"/>
<line x1="176.95" y1="528.2" x2="176.95" y2="529.8000000000001" stroke="#555" stroke-width="0.5"/>
<text transform="translate(176.95,534.8) scale(0.830,1)" text-anchor="middle" font-size="6.84" fill="#383838" stroke="#383838" stroke-width="0">-0.25</text>
<line x1="206.00" y1="528.2" x2="206.00" y2="529.8000000000001" stroke="#555" stroke-width="0.5"/>
<text transform="translate(206.00,534.8) scale(0.830,1)" text-anchor="middle" font-size="6.84" fill="#383838" stroke="#383838" stroke-width="0">0.00</text>
<line x1="235.05" y1="528.2" x2="235.05" y2="529.8000000000001" stroke="#555" stroke-width="0.5"/>
<text transform="translate(235.05,534.8) scale(0.830,1)" text-anchor="middle" font-size="6.84" fill="#383838" stroke="#383838" stroke-width="0">0.25</text>
<line x1="264.10" y1="528.2" x2="264.10" y2="529.8000000000001" stroke="#555" stroke-width="0.5"/>
<text transform="translate(264.10,534.8) scale(0.830,1)" text-anchor="middle" font-size="6.84" fill="#383838" stroke="#383838" stroke-width="0">0.50</text>
<line x1="293.15" y1="528.2" x2="293.15" y2="529.8000000000001" stroke="#555" stroke-width="0.5"/>
<text transform="translate(293.15,534.8) scale(0.830,1)" text-anchor="middle" font-size="6.84" fill="#383838" stroke="#383838" stroke-width="0">0.75</text>
<line x1="225.99" y1="393.6" x2="238.30" y2="393.6" stroke="#8A5A33" stroke-width="0.8"/>
<circle cx="231.80" cy="393.6" r="2.3" fill="#5A3412"/>
<line x1="253.99" y1="393.6" x2="261.19" y2="393.6" stroke="#A9CBEA" stroke-width="0.8"/>
<circle cx="257.13" cy="393.6" r="2.3" fill="#9DC3E6"/>
<line x1="214.13" y1="422.8" x2="226.22" y2="422.8" stroke="#8A5A33" stroke-width="0.8"/>
<circle cx="219.94" cy="422.8" r="2.3" fill="#5A3412"/>
<line x1="242.25" y1="422.8" x2="248.99" y2="422.8" stroke="#A9CBEA" stroke-width="0.8"/>
<circle cx="245.51" cy="422.8" r="2.3" fill="#9DC3E6"/>
<line x1="176.02" y1="452.1" x2="189.96" y2="452.1" stroke="#8A5A33" stroke-width="0.8"/>
<circle cx="182.53" cy="452.1" r="2.3" fill="#5A3412"/>
<line x1="199.61" y1="452.1" x2="215.06" y2="452.1" stroke="#A9CBEA" stroke-width="0.8"/>
<circle cx="206.58" cy="452.1" r="1.2" fill="#9DC3E6"/>
<line x1="189.96" y1="481.3" x2="201.93" y2="481.3" stroke="#8A5A33" stroke-width="0.8"/>
<circle cx="195.77" cy="481.3" r="2.3" fill="#5A3412"/>
<line x1="211.23" y1="481.3" x2="220.87" y2="481.3" stroke="#A9CBEA" stroke-width="0.8"/>
<circle cx="215.53" cy="481.3" r="2.3" fill="#9DC3E6"/>
<line x1="222.27" y1="510.5" x2="235.05" y2="510.5" stroke="#8A5A33" stroke-width="0.8"/>
<circle cx="228.43" cy="510.5" r="2.3" fill="#5A3412"/>
<line x1="240.28" y1="510.5" x2="248.99" y2="510.5" stroke="#A9CBEA" stroke-width="0.8"/>
<circle cx="244.58" cy="510.5" r="2.3" fill="#9DC3E6"/>
<text transform="translate(363.65,373.7) scale(0.830,1)" text-anchor="middle" font-size="6.72" fill="#1a1a1a" stroke="#1a1a1a" stroke-width="0">GGT</text>
<line x1="306.45" y1="376.5" x2="306.45" y2="528.2" stroke="#ebebeb" stroke-width="0.5"/>
<line x1="364.55" y1="376.5" x2="364.55" y2="528.2" stroke="#ebebeb" stroke-width="0.5"/>
<line x1="393.60" y1="376.5" x2="393.60" y2="528.2" stroke="#ebebeb" stroke-width="0.5"/>
<line x1="422.65" y1="376.5" x2="422.65" y2="528.2" stroke="#ebebeb" stroke-width="0.5"/>
<line x1="335.50" y1="376.5" x2="335.50" y2="528.2" stroke="#666" stroke-width="0.7"/>
<rect x="300.30" y="376.5" width="126.70" height="151.70" fill="none" stroke="#9a9a9a" stroke-width="0.75"/>
<line x1="306.45" y1="528.2" x2="306.45" y2="529.8000000000001" stroke="#555" stroke-width="0.5"/>
<text transform="translate(306.45,534.8) scale(0.830,1)" text-anchor="middle" font-size="6.84" fill="#383838" stroke="#383838" stroke-width="0">-0.25</text>
<line x1="335.50" y1="528.2" x2="335.50" y2="529.8000000000001" stroke="#555" stroke-width="0.5"/>
<text transform="translate(335.50,534.8) scale(0.830,1)" text-anchor="middle" font-size="6.84" fill="#383838" stroke="#383838" stroke-width="0">0.00</text>
<line x1="364.55" y1="528.2" x2="364.55" y2="529.8000000000001" stroke="#555" stroke-width="0.5"/>
<text transform="translate(364.55,534.8) scale(0.830,1)" text-anchor="middle" font-size="6.84" fill="#383838" stroke="#383838" stroke-width="0">0.25</text>
<line x1="393.60" y1="528.2" x2="393.60" y2="529.8000000000001" stroke="#555" stroke-width="0.5"/>
<text transform="translate(393.60,534.8) scale(0.830,1)" text-anchor="middle" font-size="6.84" fill="#383838" stroke="#383838" stroke-width="0">0.50</text>
<line x1="422.65" y1="528.2" x2="422.65" y2="529.8000000000001" stroke="#555" stroke-width="0.5"/>
<text transform="translate(422.65,534.8) scale(0.830,1)" text-anchor="middle" font-size="6.84" fill="#383838" stroke="#383838" stroke-width="0">0.75</text>
<line x1="345.38" y1="393.6" x2="357.81" y2="393.6" stroke="#8A5A33" stroke-width="0.8"/>
<circle cx="351.65" cy="393.6" r="2.3" fill="#5A3412"/>
<line x1="385.23" y1="393.6" x2="392.44" y2="393.6" stroke="#A9CBEA" stroke-width="0.8"/>
<circle cx="388.49" cy="393.6" r="2.3" fill="#9DC3E6"/>
<line x1="355.95" y1="422.8" x2="367.69" y2="422.8" stroke="#8A5A33" stroke-width="0.8"/>
<circle cx="361.64" cy="422.8" r="2.3" fill="#5A3412"/>
<line x1="390.81" y1="422.8" x2="397.09" y2="422.8" stroke="#A9CBEA" stroke-width="0.8"/>
<circle cx="394.18" cy="422.8" r="2.3" fill="#9DC3E6"/>
<line x1="325.97" y1="452.1" x2="340.38" y2="452.1" stroke="#8A5A33" stroke-width="0.8"/>
<circle cx="333.18" cy="452.1" r="1.2" fill="#5A3412"/>
<line x1="378.49" y1="452.1" x2="393.60" y2="452.1" stroke="#A9CBEA" stroke-width="0.8"/>
<circle cx="386.05" cy="452.1" r="2.3" fill="#9DC3E6"/>
<line x1="328.30" y1="481.3" x2="340.73" y2="481.3" stroke="#8A5A33" stroke-width="0.8"/>
<circle cx="334.34" cy="481.3" r="1.2" fill="#5A3412"/>
<line x1="360.13" y1="481.3" x2="368.73" y2="481.3" stroke="#A9CBEA" stroke-width="0.8"/>
<circle cx="364.32" cy="481.3" r="2.3" fill="#9DC3E6"/>
<line x1="345.96" y1="510.5" x2="359.20" y2="510.5" stroke="#8A5A33" stroke-width="0.8"/>
<circle cx="352.58" cy="510.5" r="2.3" fill="#5A3412"/>
<line x1="373.50" y1="510.5" x2="381.98" y2="510.5" stroke="#A9CBEA" stroke-width="0.8"/>
<circle cx="377.33" cy="510.5" r="2.3" fill="#9DC3E6"/>
<line x1="38.7" y1="393.6" x2="40.3" y2="393.6" stroke="#555" stroke-width="0.5"/>
<text transform="translate(37.8,395.60) scale(0.830,1)" text-anchor="end" font-size="6.84" fill="#383838" stroke="#383838" stroke-width="0">HAOX1</text>
<line x1="38.7" y1="422.8" x2="40.3" y2="422.8" stroke="#555" stroke-width="0.5"/>
<text transform="translate(37.8,424.80) scale(0.830,1)" text-anchor="end" font-size="6.84" fill="#383838" stroke="#383838" stroke-width="0">ACE2</text>
<line x1="38.7" y1="452.1" x2="40.3" y2="452.1" stroke="#555" stroke-width="0.5"/>
<text transform="translate(37.8,454.10) scale(0.830,1)" text-anchor="end" font-size="6.84" fill="#383838" stroke="#383838" stroke-width="0">LEP</text>
<line x1="38.7" y1="481.3" x2="40.3" y2="481.3" stroke="#555" stroke-width="0.5"/>
<text transform="translate(37.8,483.30) scale(0.830,1)" text-anchor="end" font-size="6.84" fill="#383838" stroke="#383838" stroke-width="0">FGF21</text>
<line x1="38.7" y1="510.5" x2="40.3" y2="510.5" stroke="#555" stroke-width="0.5"/>
<text transform="translate(37.8,512.50) scale(0.830,1)" text-anchor="end" font-size="6.84" fill="#383838" stroke="#383838" stroke-width="0">CDCP1</text>
<text transform="translate(233.8,541.5) scale(0.830,1)" text-anchor="middle" font-size="6.84" fill="#000" stroke="#000" stroke-width="0">β (95% CI) per s.d. unit</text>
<text transform="translate(434.9,427.2) scale(0.830,1)" font-size="6.84" fill="#000" stroke="#000" stroke-width="0">P-value</text>
<circle cx="439.1" cy="434.7" r="2.3" fill="#000"/>
<text transform="translate(445.8,436.8) scale(0.830,1)" font-size="6.84" fill="#000" stroke="#000" stroke-width="0">P &lt; 5% FDR</text>
<circle cx="439.1" cy="442.9" r="1.2" fill="#000"/>
<text transform="translate(445.8,445.0) scale(0.830,1)" font-size="6.84" fill="#000" stroke="#000" stroke-width="0">Not Significant</text>
<line x1="435.8" y1="469.5" x2="442.5" y2="469.5" stroke="#8A5A33" stroke-width="0.6"/><circle cx="439.1" cy="469.5" r="0.8" fill="#5A3412"/>
<text transform="translate(445.8,471.6) scale(0.830,1)" font-size="6.84" fill="#000" stroke="#000" stroke-width="0">Normal weight</text>
<line x1="435.8" y1="477.9" x2="442.5" y2="477.9" stroke="#A9CBEA" stroke-width="0.6"/><circle cx="439.1" cy="477.9" r="0.8" fill="#9DC3E6"/>
<text transform="translate(445.8,480.0) scale(0.830,1)" font-size="6.84" fill="#000" stroke="#000" stroke-width="0">Overweight / obesity</text>
<line x1="530.8" y1="527.8" x2="681.8" y2="376.6" stroke="#bdbdbd" stroke-width="0.7" stroke-dasharray="2.2,1.8"/>
<polygon points="537.55,520.43 538.72,510.07 540.09,500.12 541.36,491.60 542.83,484.81 544.26,478.16 546.85,471.59 549.60,464.88 552.23,458.35 557.06,451.38 561.46,440.59 565.35,435.36 569.64,430.30 572.81,428.30 574.81,427.89 578.66,426.62 584.13,422.75 591.55,417.57 597.60,412.24 598.68,411.15 605.95,407.13 613.29,403.10 621.16,398.37 629.39,396.34 638.02,395.05 646.97,393.22 655.44,390.05 664.01,387.38 675.63,384.28 675.37,383.12 663.59,385.42 654.56,386.15 645.63,387.38 636.98,389.15 628.21,390.46 618.84,392.83 610.31,397.90 603.05,401.87 595.52,406.05 593.60,407.76 587.85,412.83 580.67,417.85 575.74,421.38 573.19,422.11 570.19,422.90 565.56,425.90 560.65,431.64 556.14,437.81 551.74,448.62 546.97,455.45 544.00,462.72 541.75,469.81 539.74,477.04 538.97,484.19 538.24,491.20 537.71,499.88 537.08,509.93 536.65,520.37" fill="#00BA38" fill-opacity="0.2"/>
<polygon points="537.49,520.42 538.41,510.05 539.64,500.09 540.76,491.56 542.07,484.77 543.57,478.03 545.65,471.34 547.98,464.59 550.18,457.95 553.93,451.16 558.89,440.43 562.64,434.98 566.40,429.63 570.51,424.15 573.93,420.44 576.54,418.79 583.79,413.20 591.06,409.62 598.57,404.15 604.25,400.58 609.33,398.29 616.70,393.91 620.58,392.34 630.33,390.88 646.48,388.12 660.08,386.06 675.55,384.22 675.45,383.18 659.92,384.34 646.12,384.68 629.67,385.72 619.42,387.26 614.30,389.29 606.87,393.71 601.75,396.02 595.63,399.85 588.34,405.18 581.01,408.80 573.46,414.61 570.47,416.56 566.49,420.85 562.20,426.57 558.36,432.02 554.31,437.97 549.27,448.84 545.42,455.85 543.02,463.01 541.15,470.06 539.63,477.17 538.73,484.23 538.04,491.24 537.56,499.91 536.99,509.95 536.71,520.38" fill="#F8766D" fill-opacity="0.2"/>
<polygon points="537.49,520.42 538.31,510.05 539.44,500.09 540.56,491.56 541.87,484.75 543.28,477.99 545.17,471.26 547.20,464.51 549.25,457.77 551.99,451.03 556.69,440.43 560.59,435.04 564.70,429.63 568.62,424.00 572.41,418.75 576.66,414.20 583.76,409.32 591.08,405.40 598.49,400.09 605.56,396.17 612.57,393.78 620.40,391.57 637.65,389.03 655.08,386.76 675.56,384.22 675.44,383.18 654.92,385.04 637.35,385.57 619.60,386.43 611.03,388.82 603.44,391.43 595.71,395.71 588.32,401.00 581.04,404.88 573.34,410.20 568.39,415.45 564.38,421.00 560.50,426.57 556.41,431.96 552.11,437.97 547.21,448.97 544.35,456.03 542.20,463.09 540.63,470.14 539.32,477.21 538.53,484.25 537.84,491.24 537.36,499.91 536.89,509.95 536.71,520.38" fill="#619CFF" fill-opacity="0.2"/>
<polyline points="537.10,520.40 537.20,520.40 537.20,519.10 537.30,519.10 537.30,517.80 537.40,517.80 537.40,516.50 537.50,516.50 537.50,515.20 537.60,515.20 537.60,513.90 537.70,513.90 537.70,512.60 537.80,512.60 537.80,511.30 537.90,511.30 537.90,510.00 538.04,510.00 538.04,508.57 538.19,508.57 538.19,507.14 538.33,507.14 538.33,505.71 538.47,505.71 538.47,504.29 538.61,504.29 538.61,502.86 538.76,502.86 538.76,501.43 538.90,501.43 538.90,500.00 539.05,500.00 539.05,498.57 539.20,498.57 539.20,497.13 539.35,497.13 539.35,495.70 539.50,495.70 539.50,494.27 539.65,494.27 539.65,492.83 539.80,492.83 539.80,491.40 540.02,491.40 540.02,490.02 540.24,490.02 540.24,488.64 540.46,488.64 540.46,487.26 540.68,487.26 540.68,485.88 540.90,485.88 540.90,484.50 541.12,484.50 541.12,483.12 541.34,483.12 541.34,481.74 541.56,481.74 541.56,480.36 541.78,480.36 541.78,478.98 542.00,478.98 542.00,477.60 542.46,477.60 542.46,476.22 542.92,476.22 542.92,474.84 543.38,474.84 543.38,473.46 543.84,473.46 543.84,472.08 544.30,472.08 544.30,470.70 544.80,470.70 544.80,469.32 545.30,469.32 545.30,467.94 545.80,467.94 545.80,466.56 546.30,466.56 546.30,465.18 546.80,465.18 546.80,463.80 547.36,463.80 547.36,462.42 547.92,462.42 547.92,461.04 548.48,461.04 548.48,459.66 549.04,459.66 549.04,458.28 549.60,458.28 549.60,456.90 550.40,456.90 550.40,455.75 551.20,455.75 551.20,454.60 552.00,454.60 552.00,453.45 552.80,453.45 552.80,452.30 553.60,452.30 553.60,451.15 554.40,451.15 554.40,450.00 554.95,450.00 554.95,448.65 555.50,448.65 555.50,447.30 556.05,447.30 556.05,445.95 556.60,445.95 556.60,444.60 557.15,444.60 557.15,443.25 557.70,443.25 557.70,441.90 558.25,441.90 558.25,440.55 558.80,440.55 558.80,439.20 559.64,439.20 559.64,438.06 560.48,438.06 560.48,436.92 561.32,436.92 561.32,435.78 562.16,435.78 562.16,434.64 563.00,434.64 563.00,433.50 563.92,433.50 563.92,432.42 564.84,432.42 564.84,431.34 565.76,431.34 565.76,430.26 566.68,430.26 566.68,429.18 567.60,429.18 567.60,428.10 568.90,428.10 568.90,427.27 570.20,427.27 570.20,426.43 571.50,426.43 571.50,425.60 574.00,425.60 574.00,425.00 575.60,425.00 575.60,424.50 577.20,424.50 577.20,424.00 578.50,424.00 578.50,423.07 579.80,423.07 579.80,422.15 581.10,422.15 581.10,421.23 582.40,421.23 582.40,420.30 583.62,420.30 583.62,419.45 584.83,419.45 584.83,418.60 586.05,418.60 586.05,417.75 587.27,417.75 587.27,416.90 588.48,416.90 588.48,416.05 589.70,416.05 589.70,415.20 590.68,415.20 590.68,414.33 591.67,414.33 591.67,413.47 592.65,413.47 592.65,412.60 593.63,412.60 593.63,411.73 594.62,411.73 594.62,410.87 595.60,410.87 595.60,410.00 597.10,410.00 597.10,408.60 598.33,408.60 598.33,407.92 599.57,407.92 599.57,407.23 600.80,407.23 600.80,406.55 602.03,406.55 602.03,405.87 603.27,405.87 603.27,405.18 604.50,405.18 604.50,404.50 605.72,404.50 605.72,403.83 606.93,403.83 606.93,403.17 608.15,403.17 608.15,402.50 609.37,402.50 609.37,401.83 610.58,401.83 610.58,401.17 611.80,401.17 611.80,400.50 612.97,400.50 612.97,399.80 614.14,399.80 614.14,399.10 615.31,399.10 615.31,398.40 616.49,398.40 616.49,397.70 617.66,397.70 617.66,397.00 618.83,397.00 618.83,396.30 620.00,396.30 620.00,395.60 621.47,395.60 621.47,395.23 622.93,395.23 622.93,394.87 624.40,394.87 624.40,394.50 625.87,394.50 625.87,394.13 627.33,394.13 627.33,393.77 628.80,393.77 628.80,393.40 630.25,393.40 630.25,393.18 631.70,393.18 631.70,392.97 633.15,392.97 633.15,392.75 634.60,392.75 634.60,392.53 636.05,392.53 636.05,392.32 637.50,392.32 637.50,392.10 638.97,392.10 638.97,391.80 640.43,391.80 640.43,391.50 641.90,391.50 641.90,391.20 643.37,391.20 643.37,390.90 644.83,390.90 644.83,390.60 646.30,390.60 646.30,390.30 647.75,390.30 647.75,389.93 649.20,389.93 649.20,389.57 650.65,389.57 650.65,389.20 652.10,389.20 652.10,388.83 653.55,388.83 653.55,388.47 655.00,388.47 655.00,388.10 656.47,388.10 656.47,387.82 657.93,387.82 657.93,387.53 659.40,387.53 659.40,387.25 660.87,387.25 660.87,386.97 662.33,386.97 662.33,386.68 663.80,386.68 663.80,386.40 665.10,386.40 665.10,386.10 666.40,386.10 666.40,385.80 667.70,385.80 667.70,385.50 669.00,385.50 669.00,385.20 670.30,385.20 670.30,384.90 671.60,384.90 671.60,384.60 672.90,384.60 672.90,384.30 674.20,384.30 674.20,384.00 675.50,384.00 675.50,383.70" fill="none" stroke="#00BA38" stroke-width="0.6"/>
<polyline points="537.10,520.40 537.18,520.40 537.18,519.10 537.25,519.10 537.25,517.80 537.33,517.80 537.33,516.50 537.40,516.50 537.40,515.20 537.48,515.20 537.48,513.90 537.55,513.90 537.55,512.60 537.62,512.60 537.62,511.30 537.70,511.30 537.70,510.00 537.83,510.00 537.83,508.57 537.96,508.57 537.96,507.14 538.09,507.14 538.09,505.71 538.21,505.71 538.21,504.29 538.34,504.29 538.34,502.86 538.47,502.86 538.47,501.43 538.60,501.43 538.60,500.00 538.73,500.00 538.73,498.57 538.87,498.57 538.87,497.13 539.00,497.13 539.00,495.70 539.13,495.70 539.13,494.27 539.27,494.27 539.27,492.83 539.40,492.83 539.40,491.40 539.60,491.40 539.60,490.02 539.80,490.02 539.80,488.64 540.00,488.64 540.00,487.26 540.20,487.26 540.20,485.88 540.40,485.88 540.40,484.50 540.64,484.50 540.64,483.12 540.88,483.12 540.88,481.74 541.12,481.74 541.12,480.36 541.36,480.36 541.36,478.98 541.60,478.98 541.60,477.60 541.96,477.60 541.96,476.22 542.32,476.22 542.32,474.84 542.68,474.84 542.68,473.46 543.04,473.46 543.04,472.08 543.40,472.08 543.40,470.70 543.82,470.70 543.82,469.32 544.24,469.32 544.24,467.94 544.66,467.94 544.66,466.56 545.08,466.56 545.08,465.18 545.50,465.18 545.50,463.80 545.96,463.80 545.96,462.42 546.42,462.42 546.42,461.04 546.88,461.04 546.88,459.66 547.34,459.66 547.34,458.28 547.80,458.28 547.80,456.90 548.43,456.90 548.43,455.75 549.07,455.75 549.07,454.60 549.70,454.60 549.70,453.45 550.33,453.45 550.33,452.30 550.97,452.30 550.97,451.15 551.60,451.15 551.60,450.00 552.16,450.00 552.16,448.80 552.71,448.80 552.71,447.60 553.27,447.60 553.27,446.40 553.82,446.40 553.82,445.20 554.38,445.20 554.38,444.00 554.93,444.00 554.93,442.80 555.49,442.80 555.49,441.60 556.04,441.60 556.04,440.40 556.60,440.40 556.60,439.20 557.38,439.20 557.38,438.06 558.16,438.06 558.16,436.92 558.94,436.92 558.94,435.78 559.72,435.78 559.72,434.64 560.50,434.64 560.50,433.50 561.26,433.50 561.26,432.42 562.02,432.42 562.02,431.34 562.78,431.34 562.78,430.26 563.54,430.26 563.54,429.18 564.30,429.18 564.30,428.10 565.14,428.10 565.14,426.98 565.98,426.98 565.98,425.86 566.82,425.86 566.82,424.74 567.66,424.74 567.66,423.62 568.50,423.62 568.50,422.50 569.42,422.50 569.42,421.50 570.35,421.50 570.35,420.50 571.28,420.50 571.28,419.50 572.20,419.50 572.20,418.50 573.60,418.50 573.60,417.60 575.00,417.60 575.00,416.70 576.06,416.70 576.06,415.89 577.11,415.89 577.11,415.07 578.17,415.07 578.17,414.26 579.23,414.26 579.23,413.44 580.29,413.44 580.29,412.63 581.34,412.63 581.34,411.81 582.40,411.81 582.40,411.00 583.62,411.00 583.62,410.40 584.83,410.40 584.83,409.80 586.05,409.80 586.05,409.20 587.27,409.20 587.27,408.60 588.48,408.60 588.48,408.00 589.70,408.00 589.70,407.40 590.76,407.40 590.76,406.63 591.81,406.63 591.81,405.86 592.87,405.86 592.87,405.09 593.93,405.09 593.93,404.31 594.99,404.31 594.99,403.54 596.04,403.54 596.04,402.77 597.10,402.77 597.10,402.00 598.28,402.00 598.28,401.26 599.46,401.26 599.46,400.52 600.64,400.52 600.64,399.78 601.82,399.78 601.82,399.04 603.00,399.04 603.00,398.30 604.27,398.30 604.27,397.73 605.55,397.73 605.55,397.15 606.83,397.15 606.83,396.57 608.10,396.57 608.10,396.00 609.33,396.00 609.33,395.27 610.57,395.27 610.57,394.53 611.80,394.53 611.80,393.80 613.03,393.80 613.03,393.07 614.27,393.07 614.27,392.33 615.50,392.33 615.50,391.60 617.00,391.60 617.00,391.00 618.50,391.00 618.50,390.40 620.00,390.40 620.00,389.80 621.43,389.80 621.43,389.59 622.86,389.59 622.86,389.37 624.29,389.37 624.29,389.16 625.71,389.16 625.71,388.94 627.14,388.94 627.14,388.73 628.57,388.73 628.57,388.51 630.00,388.51 630.00,388.30 631.36,388.30 631.36,388.14 632.72,388.14 632.72,387.98 634.08,387.98 634.08,387.82 635.43,387.82 635.43,387.67 636.79,387.67 636.79,387.51 638.15,387.51 638.15,387.35 639.51,387.35 639.51,387.19 640.87,387.19 640.87,387.03 642.22,387.03 642.22,386.88 643.58,386.88 643.58,386.72 644.94,386.72 644.94,386.56 646.30,386.56 646.30,386.40 647.67,386.40 647.67,386.28 649.04,386.28 649.04,386.16 650.41,386.16 650.41,386.04 651.78,386.04 651.78,385.92 653.15,385.92 653.15,385.80 654.52,385.80 654.52,385.68 655.89,385.68 655.89,385.56 657.26,385.56 657.26,385.44 658.63,385.44 658.63,385.32 660.00,385.32 660.00,385.20 661.41,385.20 661.41,385.06 662.82,385.06 662.82,384.93 664.23,384.93 664.23,384.79 665.64,384.79 665.64,384.65 667.05,384.65 667.05,384.52 668.45,384.52 668.45,384.38 669.86,384.38 669.86,384.25 671.27,384.25 671.27,384.11 672.68,384.11 672.68,383.97 674.09,383.97 674.09,383.84 675.50,383.84 675.50,383.70" fill="none" stroke="#F8766D" stroke-width="0.6"/>
<polyline points="537.10,520.40 537.16,520.40 537.16,519.10 537.23,519.10 537.23,517.80 537.29,517.80 537.29,516.50 537.35,516.50 537.35,515.20 537.41,515.20 537.41,513.90 537.48,513.90 537.48,512.60 537.54,512.60 537.54,511.30 537.60,511.30 537.60,510.00 537.71,510.00 537.71,508.57 537.83,508.57 537.83,507.14 537.94,507.14 537.94,505.71 538.06,505.71 538.06,504.29 538.17,504.29 538.17,502.86 538.29,502.86 538.29,501.43 538.40,501.43 538.40,500.00 538.53,500.00 538.53,498.57 538.67,498.57 538.67,497.13 538.80,497.13 538.80,495.70 538.93,495.70 538.93,494.27 539.07,494.27 539.07,492.83 539.20,492.83 539.20,491.40 539.40,491.40 539.40,490.02 539.60,490.02 539.60,488.64 539.80,488.64 539.80,487.26 540.00,487.26 540.00,485.88 540.20,485.88 540.20,484.50 540.42,484.50 540.42,483.12 540.64,483.12 540.64,481.74 540.86,481.74 540.86,480.36 541.08,480.36 541.08,478.98 541.30,478.98 541.30,477.60 541.62,477.60 541.62,476.22 541.94,476.22 541.94,474.84 542.26,474.84 542.26,473.46 542.58,473.46 542.58,472.08 542.90,472.08 542.90,470.70 543.26,470.70 543.26,469.32 543.62,469.32 543.62,467.94 543.98,467.94 543.98,466.56 544.34,466.56 544.34,465.18 544.70,465.18 544.70,463.80 545.12,463.80 545.12,462.42 545.54,462.42 545.54,461.04 545.96,461.04 545.96,459.66 546.38,459.66 546.38,458.28 546.80,458.28 546.80,456.90 547.36,456.90 547.36,455.52 547.92,455.52 547.92,454.14 548.48,454.14 548.48,452.76 549.04,452.76 549.04,451.38 549.60,451.38 549.60,450.00 550.13,450.00 550.13,448.80 550.67,448.80 550.67,447.60 551.20,447.60 551.20,446.40 551.73,446.40 551.73,445.20 552.27,445.20 552.27,444.00 552.80,444.00 552.80,442.80 553.33,442.80 553.33,441.60 553.87,441.60 553.87,440.40 554.40,440.40 554.40,439.20 555.22,439.20 555.22,438.06 556.04,438.06 556.04,436.92 556.86,436.92 556.86,435.78 557.68,435.78 557.68,434.64 558.50,434.64 558.50,433.50 559.32,433.50 559.32,432.42 560.14,432.42 560.14,431.34 560.96,431.34 560.96,430.26 561.78,430.26 561.78,429.18 562.60,429.18 562.60,428.10 563.38,428.10 563.38,426.98 564.16,426.98 564.16,425.86 564.94,425.86 564.94,424.74 565.72,424.74 565.72,423.62 566.50,423.62 566.50,422.50 567.28,422.50 567.28,421.42 568.06,421.42 568.06,420.34 568.84,420.34 568.84,419.26 569.62,419.26 569.62,418.18 570.40,418.18 570.40,417.10 571.32,417.10 571.32,416.12 572.24,416.12 572.24,415.14 573.16,415.14 573.16,414.16 574.08,414.16 574.08,413.18 575.00,413.18 575.00,412.20 576.23,412.20 576.23,411.35 577.47,411.35 577.47,410.50 578.70,410.50 578.70,409.65 579.93,409.65 579.93,408.80 581.17,408.80 581.17,407.95 582.40,407.95 582.40,407.10 583.62,407.10 583.62,406.45 584.83,406.45 584.83,405.80 586.05,405.80 586.05,405.15 587.27,405.15 587.27,404.50 588.48,404.50 588.48,403.85 589.70,403.85 589.70,403.20 590.76,403.20 590.76,402.44 591.81,402.44 591.81,401.69 592.87,401.69 592.87,400.93 593.93,400.93 593.93,400.17 594.99,400.17 594.99,399.41 596.04,399.41 596.04,398.66 597.10,398.66 597.10,397.90 598.33,397.90 598.33,397.22 599.57,397.22 599.57,396.53 600.80,396.53 600.80,395.85 602.03,395.85 602.03,395.17 603.27,395.17 603.27,394.48 604.50,394.48 604.50,393.80 605.96,393.80 605.96,393.30 607.42,393.30 607.42,392.80 608.88,392.80 608.88,392.30 610.34,392.30 610.34,391.80 611.80,391.80 611.80,391.30 613.17,391.30 613.17,390.92 614.53,390.92 614.53,390.53 615.90,390.53 615.90,390.15 617.27,390.15 617.27,389.77 618.63,389.77 618.63,389.38 620.00,389.38 620.00,389.00 621.35,389.00 621.35,388.87 622.69,388.87 622.69,388.74 624.04,388.74 624.04,388.61 625.38,388.61 625.38,388.48 626.73,388.48 626.73,388.35 628.08,388.35 628.08,388.22 629.42,388.22 629.42,388.08 630.77,388.08 630.77,387.95 632.12,387.95 632.12,387.82 633.46,387.82 633.46,387.69 634.81,387.69 634.81,387.56 636.15,387.56 636.15,387.43 637.50,387.43 637.50,387.30 638.85,387.30 638.85,387.19 640.19,387.19 640.19,387.08 641.54,387.08 641.54,386.98 642.88,386.98 642.88,386.87 644.23,386.87 644.23,386.76 645.58,386.76 645.58,386.65 646.92,386.65 646.92,386.55 648.27,386.55 648.27,386.44 649.62,386.44 649.62,386.33 650.96,386.33 650.96,386.22 652.31,386.22 652.31,386.12 653.65,386.12 653.65,386.01 655.00,386.01 655.00,385.90 656.37,385.90 656.37,385.75 657.73,385.75 657.73,385.61 659.10,385.61 659.10,385.46 660.47,385.46 660.47,385.31 661.83,385.31 661.83,385.17 663.20,385.17 663.20,385.02 664.57,385.02 664.57,384.87 665.93,384.87 665.93,384.73 667.30,384.73 667.30,384.58 668.67,384.58 668.67,384.43 670.03,384.43 670.03,384.29 671.40,384.29 671.40,384.14 672.77,384.14 672.77,383.99 674.13,383.99 674.13,383.85 675.50,383.85 675.50,383.70" fill="none" stroke="#619CFF" stroke-width="0.6"/>
<line x1="530.3" y1="376.0" x2="530.3" y2="528.3" stroke="#333" stroke-width="0.6"/>
<line x1="530.3" y1="528.3" x2="682.5" y2="528.3" stroke="#333" stroke-width="0.6"/>
<line x1="528.6999999999999" y1="521.40" x2="530.3" y2="521.40" stroke="#333" stroke-width="0.5"/>
<text transform="translate(527.9,523.40) scale(0.830,1)" text-anchor="end" font-size="6.84" fill="#383838" stroke="#383838" stroke-width="0">0.00</text>
<line x1="528.6999999999999" y1="486.80" x2="530.3" y2="486.80" stroke="#333" stroke-width="0.5"/>
<text transform="translate(527.9,488.80) scale(0.830,1)" text-anchor="end" font-size="6.84" fill="#383838" stroke="#383838" stroke-width="0">0.25</text>
<line x1="528.6999999999999" y1="452.20" x2="530.3" y2="452.20" stroke="#333" stroke-width="0.5"/>
<text transform="translate(527.9,454.20) scale(0.830,1)" text-anchor="end" font-size="6.84" fill="#383838" stroke="#383838" stroke-width="0">0.50</text>
<line x1="528.6999999999999" y1="417.60" x2="530.3" y2="417.60" stroke="#333" stroke-width="0.5"/>
<text transform="translate(527.9,419.60) scale(0.830,1)" text-anchor="end" font-size="6.84" fill="#383838" stroke="#383838" stroke-width="0">0.75</text>
<line x1="528.6999999999999" y1="383.00" x2="530.3" y2="383.00" stroke="#333" stroke-width="0.5"/>
<text transform="translate(527.9,385.00) scale(0.830,1)" text-anchor="end" font-size="6.84" fill="#383838" stroke="#383838" stroke-width="0">1.00</text>
<line x1="537.20" y1="528.3" x2="537.20" y2="529.9" stroke="#333" stroke-width="0.5"/>
<text transform="translate(537.20,534.9) scale(0.830,1)" text-anchor="middle" font-size="6.84" fill="#383838" stroke="#383838" stroke-width="0">1.00</text>
<line x1="571.72" y1="528.3" x2="571.72" y2="529.9" stroke="#333" stroke-width="0.5"/>
<text transform="translate(571.72,534.9) scale(0.830,1)" text-anchor="middle" font-size="6.84" fill="#383838" stroke="#383838" stroke-width="0">0.75</text>
<line x1="606.25" y1="528.3" x2="606.25" y2="529.9" stroke="#333" stroke-width="0.5"/>
<text transform="translate(606.25,534.9) scale(0.830,1)" text-anchor="middle" font-size="6.84" fill="#383838" stroke="#383838" stroke-width="0">0.50</text>
<line x1="640.77" y1="528.3" x2="640.77" y2="529.9" stroke="#333" stroke-width="0.5"/>
<text transform="translate(640.77,534.9) scale(0.830,1)" text-anchor="middle" font-size="6.84" fill="#383838" stroke="#383838" stroke-width="0">0.25</text>
<line x1="675.30" y1="528.3" x2="675.30" y2="529.9" stroke="#333" stroke-width="0.5"/>
<text transform="translate(675.30,534.9) scale(0.830,1)" text-anchor="middle" font-size="6.84" fill="#383838" stroke="#383838" stroke-width="0">0.00</text>
<text transform="translate(606.3,541.6) scale(0.830,1)" text-anchor="middle" font-size="6.84" fill="#000" stroke="#000" stroke-width="0">Specificity</text>
<text transform="translate(514.0,452.4) rotate(-90) scale(0.830,1)" text-anchor="middle" font-size="6.84" fill="#000" stroke="#000" stroke-width="0">Sensitivity</text>
<rect x="589.5" y="486.5" width="9.2" height="6" fill="#F8766D" fill-opacity="0.0"/>
<line x1="589.5" y1="489.5" x2="598.7" y2="489.5" stroke="#F8766D" stroke-width="0.6"/>
<rect x="589.5" y="498.5" width="9.2" height="6" fill="#00BA38" fill-opacity="0.0"/>
<line x1="589.5" y1="501.5" x2="598.7" y2="501.5" stroke="#00BA38" stroke-width="0.6"/>
<rect x="589.5" y="510.3" width="9.2" height="6" fill="#619CFF" fill-opacity="0.0"/>
<line x1="589.5" y1="513.3" x2="598.7" y2="513.3" stroke="#619CFF" stroke-width="0.6"/>
<text transform="translate(603.0,489.0) scale(0.830,1)" font-size="6.84" fill="#000" stroke="#000" stroke-width="0">CDCP1 + FGF21 + HAOX1</text>
<text transform="translate(603.0,495.0) scale(0.830,1)" font-size="6.84" fill="#000" stroke="#000" stroke-width="0">AUC = 0.81 (95% CI: 0.79-0.83)</text>
<text transform="translate(603.0,500.7) scale(0.830,1)" font-size="6.84" fill="#000" stroke="#000" stroke-width="0">ALT + AST + GGT</text>
<text transform="translate(603.0,506.6) scale(0.830,1)" font-size="6.84" fill="#000" stroke="#000" stroke-width="0">AUC = 0.77 (95% CI: 0.75-0.79)</text>
<text transform="translate(603.0,512.3) scale(0.830,1)" font-size="6.84" fill="#000" stroke="#000" stroke-width="0">Combined Model</text>
<text transform="translate(603.0,518.6) scale(0.830,1)" font-size="6.84" fill="#000" stroke="#000" stroke-width="0">AUC = 0.83 (95% CI: 0.81-0.84)</text>
</svg>
</body></html>
